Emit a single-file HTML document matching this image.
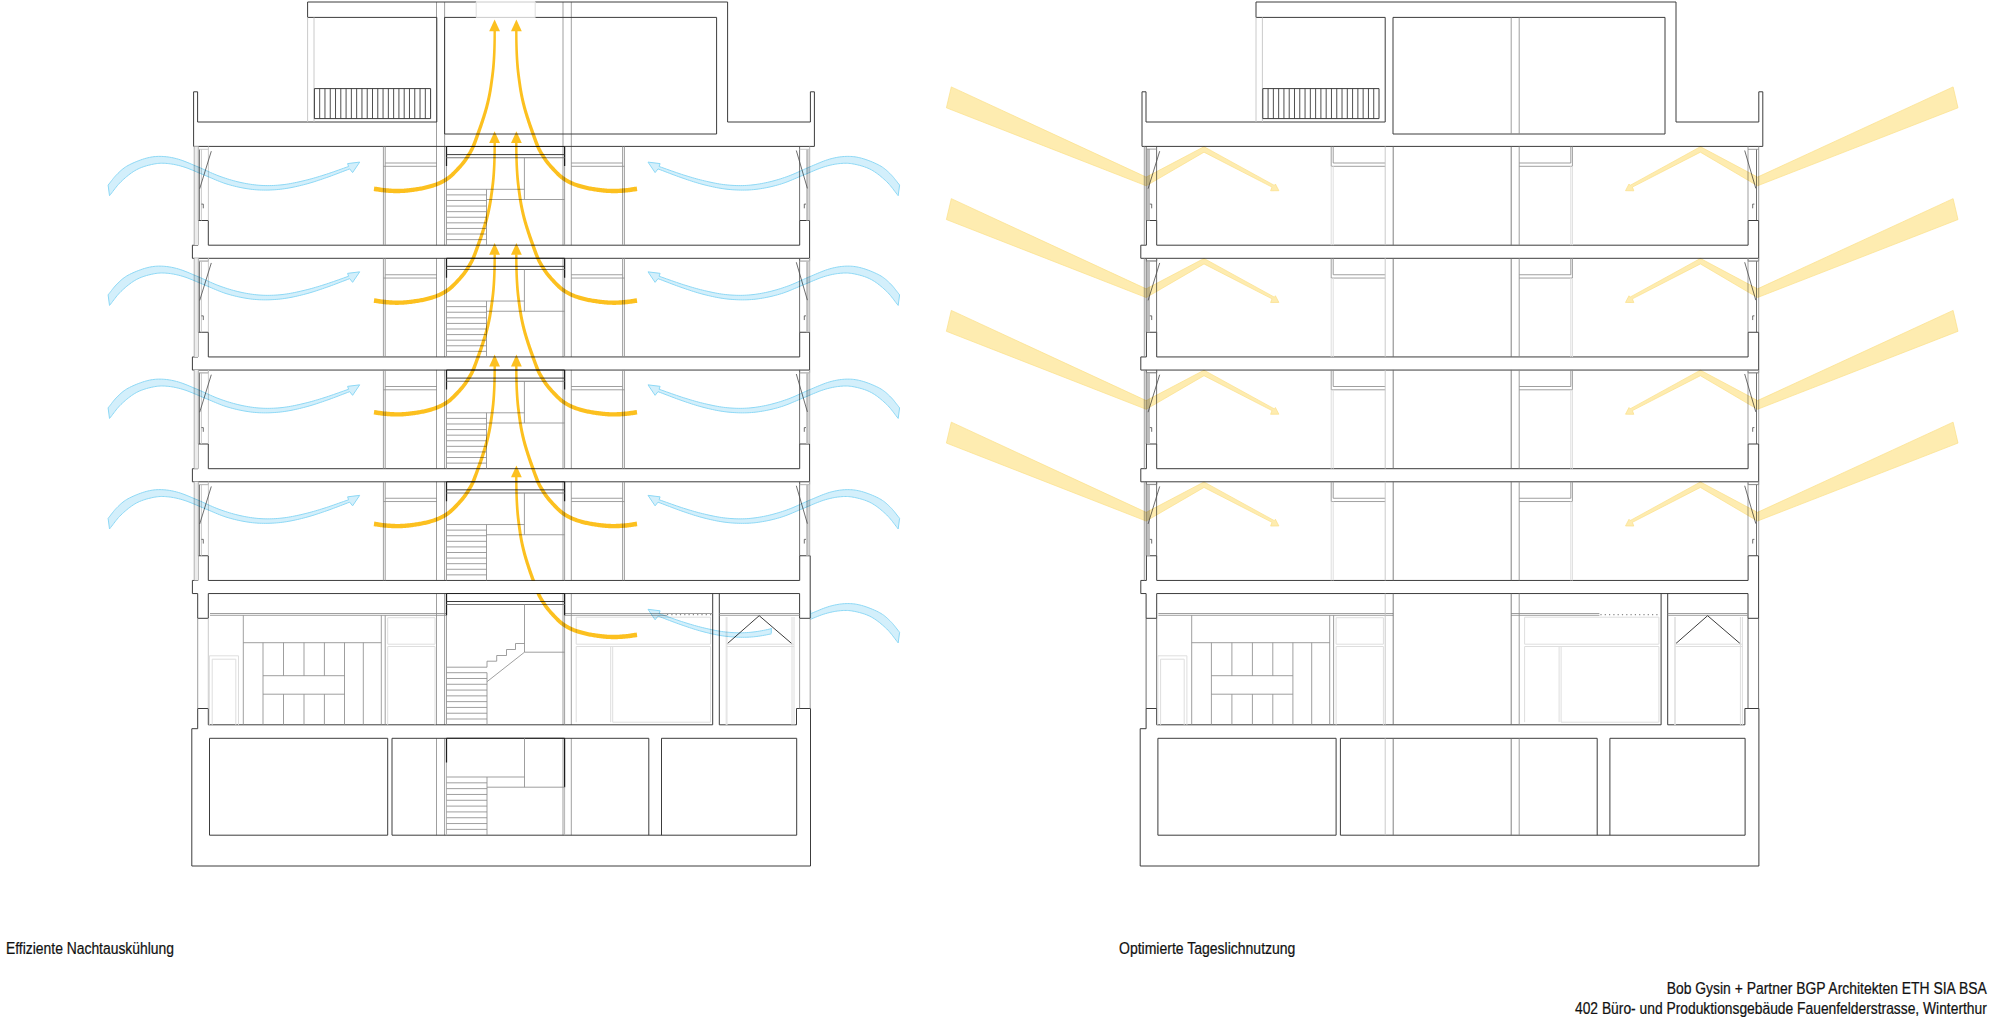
<!DOCTYPE html>
<html lang="de">
<head>
<meta charset="utf-8">
<title>Effiziente Nachtauskühlung / Optimierte Tageslichnutzung</title>
<style>
html,body{margin:0;padding:0;background:#fff;}
body{width:2000px;height:1023px;overflow:hidden;position:relative;font-family:"Liberation Sans",sans-serif;}
svg{position:absolute;left:0;top:0;display:block;}
path{fill:none;stroke-linecap:butt;stroke-linejoin:miter;}
.d{stroke:#3c3c3c;stroke-width:1;}
.d2{stroke:#4a4a4a;stroke-width:.8;}
.k{stroke:#1c1c1c;stroke-width:1.25;}
.kh{stroke:#222;stroke-width:1.05;}
.r{stroke:#3c3c3c;stroke-width:.9;}
.g{stroke:#8e8e8e;stroke-width:.85;}
.g2{stroke:#777;stroke-width:1.1;}
.g3{stroke:#6c6c6c;stroke-width:.85;}
.l{stroke:#c4c4c4;stroke-width:.9;}
.l2{stroke:#ababab;stroke-width:.9;}
.v{stroke:#dedede;stroke-width:1;}
.dot{stroke:#8a8a8a;stroke-width:1.3;stroke-dasharray:1.2 3.1;}
.gf{fill:#ececec;stroke:none;}
.gf2{fill:#bdbdbd;stroke:none;}
.ya{fill:#fcc01f;stroke:none;}
.ba{fill:#d3effb;stroke:#8dd8f5;stroke-width:1;stroke-linejoin:round;}
.bs{stroke:#8dd8f5;stroke-width:1;}
.vw{stroke:#e6e6e6;stroke-width:2;}
.lb{fill:#feecb0;stroke:#fbdf88;stroke-width:.7;stroke-linejoin:round;}
text{font-family:"Liberation Sans",sans-serif;fill:#111;stroke:#111;stroke-width:.22px;}
</style>
</head>
<body>
<svg width="2000" height="1023" viewBox="0 0 2000 1023">
<defs><clipPath id="yclip"><path d="M0 0H2000V580.7H0ZM0 593H2000V1023H0Z"/></clipPath><clipPath id="gclip"><path d="M0 0H771.5V1023H0ZM810.6 0H2000V1023H810.6Z"/></clipPath></defs>
<rect x="0" y="0" width="2000" height="1023" fill="#fff"/>
<g id="bl">
<path class="g" d="M436.5 2L436.5 245.2M436.5 258.15L436.5 356.95M436.5 369.9L436.5 468.7M436.5 481.65L436.5 580.45M436.5 593.5L436.5 724.8M436.5 738.3L436.5 835.2M444.6 2L444.6 245.2M444.6 258.15L444.6 356.95M444.6 369.9L444.6 468.7M444.6 481.65L444.6 580.45M444.6 593.5L444.6 724.8M444.6 738.3L444.6 835.2M563 2L563 245.2M563 258.15L563 356.95M563 369.9L563 468.7M563 481.65L563 580.45M563 593.5L563 724.8M563 738.3L563 835.2M571.3 2L571.3 245.2M571.3 258.15L571.3 356.95M571.3 369.9L571.3 468.7M571.3 481.65L571.3 580.45M571.3 593.5L571.3 724.8M571.3 738.3L571.3 835.2"/>
<path class="d" d="M307.6 17.4L307.6 2L727.6 2L727.6 122L810.4 122L810.4 91.8L814.4 91.8L814.4 146.4L193.6 146.4L193.6 91.8L197.6 91.8L197.6 122L436.8 122L436.8 17.4L307.6 17.4"/>
<path class="d" d="M444.6 17.4L716.6 17.4L716.6 134L444.6 134Z"/>
<rect x="476.2" y="0" width="59" height="19" fill="#fff"/>
<path class="l" d="M476.2 2L535.2 2M476.2 17.4L535.2 17.4"/>
<path class="v" d="M476.2 2L476.2 17.4M535.2 2L535.2 17.4"/>
<path class="l" d="M307.6 17.4L307.6 122M314 17.4L314 122"/>
<path class="d" d="M314.4 88.6L430.6 88.6L430.6 118.6L314.4 118.6Z"/>
<path class="r" d="M319.68 88.6L319.68 118.6M324.96 88.6L324.96 118.6M330.25 88.6L330.25 118.6M335.53 88.6L335.53 118.6M340.81 88.6L340.81 118.6M346.09 88.6L346.09 118.6M351.37 88.6L351.37 118.6M356.65 88.6L356.65 118.6M361.94 88.6L361.94 118.6M367.22 88.6L367.22 118.6M372.5 88.6L372.5 118.6M377.78 88.6L377.78 118.6M383.06 88.6L383.06 118.6M388.35 88.6L388.35 118.6M393.63 88.6L393.63 118.6M398.91 88.6L398.91 118.6M404.19 88.6L404.19 118.6M409.47 88.6L409.47 118.6M414.75 88.6L414.75 118.6M420.04 88.6L420.04 118.6M425.32 88.6L425.32 118.6"/>
<path class="d" d="M208.3 245.2L208.3 220.5L198 220.5L198 245.2L192.4 245.2L192.4 258.3L809.6 258.3L809.6 220.5L799.7 220.5L799.7 245.2L208.3 245.2"/>
<path class="g" d="M198 258.3L198 261.1L208.4 261.1L208.4 258.3"/>
<path class="g" d="M799.7 258.3L799.7 261.1L809.6 261.1L809.6 258.3"/>
<rect class="gf" x="194.2" y="146.4" width="4.2" height="98.8"/>
<path class="l2" d="M194.2 146.4L194.2 245.2M198.3 146.4L198.3 220.5"/>
<path class="d2" d="M199.4 149.3L199.4 220.5"/>
<path class="l" d="M201.4 149.3L201.4 220.5M208.4 146.4L208.4 220.5M198.3 149.3L208.4 149.3"/>
<path class="d2" d="M211.3 151.2L199.7 188.7"/>
<path class="d2" d="M201.4 204.1L203.3 204.1L203.3 208.3"/>
<rect class="gf2" x="806.2" y="149.3" width="2.4" height="71.2"/>
<path class="d2" d="M799.6 146.4L799.6 220.5"/>
<path class="l2" d="M809.7 146.4L809.7 220.5"/>
<path class="l" d="M799.6 149.3L809.7 149.3"/>
<path class="d2" d="M796.3 150.5L807.4 188.4"/>
<path class="d2" d="M804.3 208.3L804.3 204.1L806 204.1"/>
<path class="g" d="M383.4 146.4L383.4 245.2M385.2 146.4L385.2 245.2"/>
<path class="g" d="M385.2 163L437 163M383.4 166.3L437 166.3"/>
<path class="g" d="M622.6 146.4L622.6 245.2M624.4 146.4L624.4 245.2"/>
<path class="g" d="M571.3 163L622.6 163M571.3 166.3L624.4 166.3"/>
<path class="g" d="M446.5 146.4L446.5 245.2M564.6 146.4L564.6 245.2"/>
<path class="kh" d="M446.5 146.4L564.6 146.4"/>
<path class="k" d="M446.5 146.4L446.5 166M564.6 146.4L564.6 166"/>
<path class="d" d="M446.5 154.6L564.6 154.6"/>
<path class="g2" d="M446.5 157.7L564.6 157.7"/>
<path class="g" d="M524.4 157.7L524.4 199.5M446.5 189.3L524.4 189.3M486.5 199.5L564.6 199.5M486.5 189.3L486.5 245.2"/>
<path class="g" d="M446.5 194.89L486.5 194.89M446.5 200.48L486.5 200.48M446.5 206.07L486.5 206.07M446.5 211.66L486.5 211.66M446.5 217.25L486.5 217.25M446.5 222.84L486.5 222.84M446.5 228.43L486.5 228.43M446.5 234.02L486.5 234.02M446.5 239.61L486.5 239.61"/>
<path class="d" d="M208.3 356.95L208.3 332.25L198 332.25L198 356.95L192.4 356.95L192.4 370.05L809.6 370.05L809.6 332.25L799.7 332.25L799.7 356.95L208.3 356.95"/>
<path class="g" d="M198 370.05L198 372.85L208.4 372.85L208.4 370.05"/>
<path class="g" d="M799.7 370.05L799.7 372.85L809.6 372.85L809.6 370.05"/>
<rect class="gf" x="194.2" y="258.15" width="4.2" height="98.8"/>
<path class="l2" d="M194.2 258.15L194.2 356.95M198.3 258.15L198.3 332.25"/>
<path class="d2" d="M199.4 261.05L199.4 332.25"/>
<path class="l" d="M201.4 261.05L201.4 332.25M208.4 258.15L208.4 332.25M198.3 261.05L208.4 261.05"/>
<path class="d2" d="M211.3 262.95L199.7 300.45"/>
<path class="d2" d="M201.4 315.85L203.3 315.85L203.3 320.05"/>
<rect class="gf2" x="806.2" y="261.05" width="2.4" height="71.2"/>
<path class="d2" d="M799.6 258.15L799.6 332.25"/>
<path class="l2" d="M809.7 258.15L809.7 332.25"/>
<path class="l" d="M799.6 261.05L809.7 261.05"/>
<path class="d2" d="M796.3 262.25L807.4 300.15"/>
<path class="d2" d="M804.3 320.05L804.3 315.85L806 315.85"/>
<path class="g" d="M383.4 258.15L383.4 356.95M385.2 258.15L385.2 356.95"/>
<path class="g" d="M385.2 274.75L437 274.75M383.4 278.05L437 278.05"/>
<path class="g" d="M622.6 258.15L622.6 356.95M624.4 258.15L624.4 356.95"/>
<path class="g" d="M571.3 274.75L622.6 274.75M571.3 278.05L624.4 278.05"/>
<path class="g" d="M446.5 258.15L446.5 356.95M564.6 258.15L564.6 356.95"/>
<path class="kh" d="M446.5 258.15L564.6 258.15"/>
<path class="k" d="M446.5 258.15L446.5 277.75M564.6 258.15L564.6 277.75"/>
<path class="d" d="M446.5 266.35L564.6 266.35"/>
<path class="g2" d="M446.5 269.45L564.6 269.45"/>
<path class="g" d="M524.4 269.45L524.4 311.25M446.5 301.05L524.4 301.05M486.5 311.25L564.6 311.25M486.5 301.05L486.5 356.95"/>
<path class="g" d="M446.5 306.64L486.5 306.64M446.5 312.23L486.5 312.23M446.5 317.82L486.5 317.82M446.5 323.41L486.5 323.41M446.5 329L486.5 329M446.5 334.59L486.5 334.59M446.5 340.18L486.5 340.18M446.5 345.77L486.5 345.77M446.5 351.36L486.5 351.36"/>
<path class="d" d="M208.3 468.7L208.3 444L198 444L198 468.7L192.4 468.7L192.4 481.8L809.6 481.8L809.6 444L799.7 444L799.7 468.7L208.3 468.7"/>
<path class="g" d="M198 481.8L198 484.6L208.4 484.6L208.4 481.8"/>
<path class="g" d="M799.7 481.8L799.7 484.6L809.6 484.6L809.6 481.8"/>
<rect class="gf" x="194.2" y="369.9" width="4.2" height="98.8"/>
<path class="l2" d="M194.2 369.9L194.2 468.7M198.3 369.9L198.3 444"/>
<path class="d2" d="M199.4 372.8L199.4 444"/>
<path class="l" d="M201.4 372.8L201.4 444M208.4 369.9L208.4 444M198.3 372.8L208.4 372.8"/>
<path class="d2" d="M211.3 374.7L199.7 412.2"/>
<path class="d2" d="M201.4 427.6L203.3 427.6L203.3 431.8"/>
<rect class="gf2" x="806.2" y="372.8" width="2.4" height="71.2"/>
<path class="d2" d="M799.6 369.9L799.6 444"/>
<path class="l2" d="M809.7 369.9L809.7 444"/>
<path class="l" d="M799.6 372.8L809.7 372.8"/>
<path class="d2" d="M796.3 374L807.4 411.9"/>
<path class="d2" d="M804.3 431.8L804.3 427.6L806 427.6"/>
<path class="g" d="M383.4 369.9L383.4 468.7M385.2 369.9L385.2 468.7"/>
<path class="g" d="M385.2 386.5L437 386.5M383.4 389.8L437 389.8"/>
<path class="g" d="M622.6 369.9L622.6 468.7M624.4 369.9L624.4 468.7"/>
<path class="g" d="M571.3 386.5L622.6 386.5M571.3 389.8L624.4 389.8"/>
<path class="g" d="M446.5 369.9L446.5 468.7M564.6 369.9L564.6 468.7"/>
<path class="kh" d="M446.5 369.9L564.6 369.9"/>
<path class="k" d="M446.5 369.9L446.5 389.5M564.6 369.9L564.6 389.5"/>
<path class="d" d="M446.5 378.1L564.6 378.1"/>
<path class="g2" d="M446.5 381.2L564.6 381.2"/>
<path class="g" d="M524.4 381.2L524.4 423M446.5 412.8L524.4 412.8M486.5 423L564.6 423M486.5 412.8L486.5 468.7"/>
<path class="g" d="M446.5 418.39L486.5 418.39M446.5 423.98L486.5 423.98M446.5 429.57L486.5 429.57M446.5 435.16L486.5 435.16M446.5 440.75L486.5 440.75M446.5 446.34L486.5 446.34M446.5 451.93L486.5 451.93M446.5 457.52L486.5 457.52M446.5 463.11L486.5 463.11"/>
<path class="d" d="M208.3 580.45L208.3 555.75L198 555.75L198 580.45L192.4 580.45L192.4 593.55L197.7 593.55L197.7 618.3L208.3 618.3L208.3 593.55L799.6 593.55L799.6 618.3L810.2 618.3L810.2 555.75L799.7 555.75L799.7 580.45L208.3 580.45"/>
<rect class="gf" x="194.2" y="481.65" width="4.2" height="98.8"/>
<path class="l2" d="M194.2 481.65L194.2 580.45M198.3 481.65L198.3 555.75"/>
<path class="d2" d="M199.4 484.55L199.4 555.75"/>
<path class="l" d="M201.4 484.55L201.4 555.75M208.4 481.65L208.4 555.75M198.3 484.55L208.4 484.55"/>
<path class="d2" d="M211.3 486.45L199.7 523.95"/>
<path class="d2" d="M201.4 539.35L203.3 539.35L203.3 543.55"/>
<rect class="gf2" x="806.2" y="484.55" width="2.4" height="71.2"/>
<path class="d2" d="M799.6 481.65L799.6 555.75"/>
<path class="l2" d="M809.7 481.65L809.7 555.75"/>
<path class="l" d="M799.6 484.55L809.7 484.55"/>
<path class="d2" d="M796.3 485.75L807.4 523.65"/>
<path class="d2" d="M804.3 543.55L804.3 539.35L806 539.35"/>
<path class="g" d="M383.4 481.65L383.4 580.45M385.2 481.65L385.2 580.45"/>
<path class="g" d="M385.2 498.25L437 498.25M383.4 501.55L437 501.55"/>
<path class="g" d="M622.6 481.65L622.6 580.45M624.4 481.65L624.4 580.45"/>
<path class="g" d="M571.3 498.25L622.6 498.25M571.3 501.55L624.4 501.55"/>
<path class="g" d="M446.5 481.65L446.5 580.45M564.6 481.65L564.6 580.45"/>
<path class="kh" d="M446.5 481.65L564.6 481.65"/>
<path class="k" d="M446.5 481.65L446.5 501.25M564.6 481.65L564.6 501.25"/>
<path class="d" d="M446.5 489.85L564.6 489.85"/>
<path class="g2" d="M446.5 492.95L564.6 492.95"/>
<path class="g" d="M524.4 492.95L524.4 534.75M446.5 524.55L524.4 524.55M486.5 534.75L564.6 534.75M486.5 524.55L486.5 580.45"/>
<path class="g" d="M446.5 530.14L486.5 530.14M446.5 535.73L486.5 535.73M446.5 541.32L486.5 541.32M446.5 546.91L486.5 546.91M446.5 552.5L486.5 552.5M446.5 558.09L486.5 558.09M446.5 563.68L486.5 563.68M446.5 569.27L486.5 569.27M446.5 574.86L486.5 574.86"/>
<path class="d" d="M208.3 724.8L208.3 708.5L197.7 708.5L197.7 728.7L191.8 728.7L191.8 866L810.5 866L810.5 708.5L796.5 708.5L796.5 724.8L719.3 724.8L719.3 593.5"/>
<path class="d" d="M712.7 593.5L712.7 724.8L208.3 724.8"/>
<path class="g" d="M197.7 618.3L197.7 708.5"/>
<path class="l" d="M208.3 618.3L208.3 708.5"/>
<path class="g" d="M799.6 618.3L799.6 708.5M810.2 618.3L810.2 708.5"/>
<path class="g" d="M210 613.5L446.2 613.5M210 615.3L446.2 615.3"/>
<path class="g" d="M564.6 613.5L712.7 613.5M564.6 615.3L667 615.3"/>
<path class="dot" d="M667 614.6L712 614.6"/>
<path class="g" d="M719.3 613.5L799.6 613.5M719.3 615.3L799.6 615.3"/>
<path class="v" d="M209.4 724.8L209.4 655.8L238.5 655.8L238.5 724.8M212.2 724.8L212.2 659.2L235.8 659.2L235.8 724.8"/>
<path class="g" d="M243.3 615.3L243.3 724.8M243.3 642.7L381.3 642.7M263 642.7L263 724.8M344.5 642.7L344.5 724.8M363.3 642.7L363.3 724.8M263 675.7L344.5 675.7M263 694.2L344.5 694.2"/>
<path class="g" d="M283.5 642.7L283.5 675.7M283.5 694.2L283.5 724.8M304 642.7L304 675.7M304 694.2L304 724.8M324.4 642.7L324.4 675.7M324.4 694.2L324.4 724.8"/>
<path class="g" d="M381.3 615.3L381.3 724.8M385.2 615.3L385.2 724.8"/>
<path class="v" d="M387.7 617.7L435 617.7L435 644.2L387.7 644.2L387.7 617.7M387.7 724.8L387.7 646.5L435 646.5L435 724.8"/>
<path class="g" d="M446.5 593.5L446.5 724.8M564.6 593.5L564.6 724.8"/>
<path class="kh" d="M446.5 593.5L564.6 593.5"/>
<path class="k" d="M446.5 593.5L446.5 615.3M564.6 593.5L564.6 615.3"/>
<path class="d" d="M446.5 601.5L564.6 601.5"/>
<path class="g2" d="M446.5 604.5L564.6 604.5"/>
<path class="g" d="M524.5 604.5L524.5 652.2L564.6 652.2M524.5 643.5L515.5 643.5L515.5 649.5L506.5 649.5L506.5 655.5L496.7 655.5L496.7 661.2L487 661.2L487 667.2L446.5 667.2M524.5 652.2L487 681.7M487 672.7L487 724.8"/>
<path class="g" d="M446.5 672.7L487 672.7M446.5 678.49L487 678.49M446.5 684.28L487 684.28M446.5 690.07L487 690.07M446.5 695.86L487 695.86M446.5 701.64L487 701.64M446.5 707.43L487 707.43M446.5 713.22L487 713.22M446.5 719.01L487 719.01"/>
<path class="v" d="M576.2 617.2L710.5 617.2L710.5 644.2L576.2 644.2L576.2 617.2M576.2 722.2L576.2 646.5L710.5 646.5L710.5 722.2L612.7 722.2L612.7 646.5M610.7 646.5L610.7 722.2"/>
<path class="d" d="M727.2 643.8L759.2 615.7L792 643.8"/>
<path class="vw" d="M726.6 617L726.6 724.8"/>
<path class="v" d="M792 617L792 724.8M794 617L794 724.8M726.5 644.2L794 644.2M726.5 646.5L794 646.5"/>
<path class="d" d="M209.5 738.3L387.7 738.3L387.7 835.2L209.5 835.2Z"/>
<path class="d" d="M392 835.2L392 738.3L648.8 738.3L648.8 835.2"/>
<path class="d" d="M661.5 835.2L661.5 738.3L796.7 738.3L796.7 835.2L392 835.2"/>
<path class="l2" d="M446.5 738.3L446.5 835.2M564.6 787.2L564.6 835.2"/>
<path class="kh" d="M446.5 738.3L564.6 738.3"/>
<path class="k" d="M446.5 738.3L446.5 762.5M564.6 738.3L564.6 787.2"/>
<path class="g" d="M524.5 738.3L524.5 787.2M487 787.2L564.6 787.2M446.5 777L524.5 777M487 777L487 835.2"/>
<path class="g" d="M446.5 782.82L487 782.82M446.5 788.64L487 788.64M446.5 794.46L487 794.46M446.5 800.28L487 800.28M446.5 806.1L487 806.1M446.5 811.92L487 811.92M446.5 817.74L487 817.74M446.5 823.56L487 823.56M446.5 829.38L487 829.38"/>
</g>
<g id="br">
<path class="d" d="M1256 17.4L1256 2L1676 2L1676 122L1758.8 122L1758.8 91.8L1762.8 91.8L1762.8 146.4L1142 146.4L1142 91.8L1146 91.8L1146 122L1385.2 122L1385.2 17.4L1256 17.4"/>
<path class="d" d="M1393 17.4L1665 17.4L1665 134L1393 134Z"/>
<path class="l" d="M1256 17.4L1256 122M1262.4 17.4L1262.4 122"/>
<path class="d" d="M1262.8 88.6L1379 88.6L1379 118.6L1262.8 118.6Z"/>
<path class="r" d="M1268.08 88.6L1268.08 118.6M1273.36 88.6L1273.36 118.6M1278.65 88.6L1278.65 118.6M1283.93 88.6L1283.93 118.6M1289.21 88.6L1289.21 118.6M1294.49 88.6L1294.49 118.6M1299.77 88.6L1299.77 118.6M1305.05 88.6L1305.05 118.6M1310.34 88.6L1310.34 118.6M1315.62 88.6L1315.62 118.6M1320.9 88.6L1320.9 118.6M1326.18 88.6L1326.18 118.6M1331.46 88.6L1331.46 118.6M1336.75 88.6L1336.75 118.6M1342.03 88.6L1342.03 118.6M1347.31 88.6L1347.31 118.6M1352.59 88.6L1352.59 118.6M1357.87 88.6L1357.87 118.6M1363.15 88.6L1363.15 118.6M1368.44 88.6L1368.44 118.6M1373.72 88.6L1373.72 118.6"/>
<path class="g" d="M1511.2 17.4L1511.2 134M1519.2 17.4L1519.2 134"/>
<path class="d" d="M1156.7 245.2L1156.7 220.5L1146.4 220.5L1146.4 245.2L1140.8 245.2L1140.8 258.3L1758.7 258.3L1758.7 220.5L1748.1 220.5L1748.1 245.2L1156.7 245.2"/>
<path class="g" d="M1146.4 258.3L1146.4 261.1L1156.8 261.1L1156.8 258.3"/>
<path class="g" d="M1748.1 258.3L1748.1 261.1L1758.7 261.1L1758.7 258.3"/>
<rect class="gf2" x="1147" y="149.1" width="3" height="71.4"/>
<path class="g" d="M1144.3 146.4L1144.3 245.2"/>
<path class="d2" d="M1146.2 146.4L1146.2 220.5"/>
<path class="d2" d="M1156.6 146.4L1156.6 220.5"/>
<path class="g" d="M1146.2 149.1L1156.6 149.1"/>
<path class="d2" d="M1159.7 151.2L1148.1 188.7"/>
<path class="d2" d="M1149.8 204.1L1151.7 204.1L1151.7 208.3"/>
<path class="g" d="M1748 146.4L1748 220.5"/>
<path class="d2" d="M1756.5 149.3L1756.5 220.5"/>
<path class="g" d="M1758.7 146.4L1758.7 220.5"/>
<path class="g" d="M1748 149.3L1758.7 149.3"/>
<path class="d2" d="M1744.7 150.5L1755.8 188.4"/>
<path class="d2" d="M1752.7 208.3L1752.7 204.1L1754.4 204.1"/>
<path class="g" d="M1331.2 146.4L1331.2 166.3M1333.2 146.4L1333.2 163L1385.2 163M1331.2 166.3L1385.2 166.3"/>
<path class="v" d="M1331.2 166.3L1331.2 245.2M1333.2 166.3L1333.2 245.2"/>
<path class="l" d="M1385.2 146.4L1385.2 245.2"/>
<path class="g3" d="M1393.2 146.4L1393.2 245.2"/>
<path class="g3" d="M1511.2 146.4L1511.2 245.2"/>
<path class="g" d="M1519.2 146.4L1519.2 245.2"/>
<path class="g" d="M1572.4 146.4L1572.4 166.3M1570.8 146.4L1570.8 163L1519.2 163M1519.2 166.3L1572.4 166.3"/>
<path class="v" d="M1572.4 166.3L1572.4 245.2M1570.8 166.3L1570.8 245.2"/>
<path class="d" d="M1156.7 356.95L1156.7 332.25L1146.4 332.25L1146.4 356.95L1140.8 356.95L1140.8 370.05L1758.7 370.05L1758.7 332.25L1748.1 332.25L1748.1 356.95L1156.7 356.95"/>
<path class="g" d="M1146.4 370.05L1146.4 372.85L1156.8 372.85L1156.8 370.05"/>
<path class="g" d="M1748.1 370.05L1748.1 372.85L1758.7 372.85L1758.7 370.05"/>
<rect class="gf2" x="1147" y="260.85" width="3" height="71.4"/>
<path class="g" d="M1144.3 258.15L1144.3 356.95"/>
<path class="d2" d="M1146.2 258.15L1146.2 332.25"/>
<path class="d2" d="M1156.6 258.15L1156.6 332.25"/>
<path class="g" d="M1146.2 260.85L1156.6 260.85"/>
<path class="d2" d="M1159.7 262.95L1148.1 300.45"/>
<path class="d2" d="M1149.8 315.85L1151.7 315.85L1151.7 320.05"/>
<path class="g" d="M1748 258.15L1748 332.25"/>
<path class="d2" d="M1756.5 261.05L1756.5 332.25"/>
<path class="g" d="M1758.7 258.15L1758.7 332.25"/>
<path class="g" d="M1748 261.05L1758.7 261.05"/>
<path class="d2" d="M1744.7 262.25L1755.8 300.15"/>
<path class="d2" d="M1752.7 320.05L1752.7 315.85L1754.4 315.85"/>
<path class="g" d="M1331.2 258.15L1331.2 278.05M1333.2 258.15L1333.2 274.75L1385.2 274.75M1331.2 278.05L1385.2 278.05"/>
<path class="v" d="M1331.2 278.05L1331.2 356.95M1333.2 278.05L1333.2 356.95"/>
<path class="l" d="M1385.2 258.15L1385.2 356.95"/>
<path class="g3" d="M1393.2 258.15L1393.2 356.95"/>
<path class="g3" d="M1511.2 258.15L1511.2 356.95"/>
<path class="g" d="M1519.2 258.15L1519.2 356.95"/>
<path class="g" d="M1572.4 258.15L1572.4 278.05M1570.8 258.15L1570.8 274.75L1519.2 274.75M1519.2 278.05L1572.4 278.05"/>
<path class="v" d="M1572.4 278.05L1572.4 356.95M1570.8 278.05L1570.8 356.95"/>
<path class="d" d="M1156.7 468.7L1156.7 444L1146.4 444L1146.4 468.7L1140.8 468.7L1140.8 481.8L1758.7 481.8L1758.7 444L1748.1 444L1748.1 468.7L1156.7 468.7"/>
<path class="g" d="M1146.4 481.8L1146.4 484.6L1156.8 484.6L1156.8 481.8"/>
<path class="g" d="M1748.1 481.8L1748.1 484.6L1758.7 484.6L1758.7 481.8"/>
<rect class="gf2" x="1147" y="372.6" width="3" height="71.4"/>
<path class="g" d="M1144.3 369.9L1144.3 468.7"/>
<path class="d2" d="M1146.2 369.9L1146.2 444"/>
<path class="d2" d="M1156.6 369.9L1156.6 444"/>
<path class="g" d="M1146.2 372.6L1156.6 372.6"/>
<path class="d2" d="M1159.7 374.7L1148.1 412.2"/>
<path class="d2" d="M1149.8 427.6L1151.7 427.6L1151.7 431.8"/>
<path class="g" d="M1748 369.9L1748 444"/>
<path class="d2" d="M1756.5 372.8L1756.5 444"/>
<path class="g" d="M1758.7 369.9L1758.7 444"/>
<path class="g" d="M1748 372.8L1758.7 372.8"/>
<path class="d2" d="M1744.7 374L1755.8 411.9"/>
<path class="d2" d="M1752.7 431.8L1752.7 427.6L1754.4 427.6"/>
<path class="g" d="M1331.2 369.9L1331.2 389.8M1333.2 369.9L1333.2 386.5L1385.2 386.5M1331.2 389.8L1385.2 389.8"/>
<path class="v" d="M1331.2 389.8L1331.2 468.7M1333.2 389.8L1333.2 468.7"/>
<path class="l" d="M1385.2 369.9L1385.2 468.7"/>
<path class="g3" d="M1393.2 369.9L1393.2 468.7"/>
<path class="g3" d="M1511.2 369.9L1511.2 468.7"/>
<path class="g" d="M1519.2 369.9L1519.2 468.7"/>
<path class="g" d="M1572.4 369.9L1572.4 389.8M1570.8 369.9L1570.8 386.5L1519.2 386.5M1519.2 389.8L1572.4 389.8"/>
<path class="v" d="M1572.4 389.8L1572.4 468.7M1570.8 389.8L1570.8 468.7"/>
<path class="d" d="M1156.7 580.45L1156.7 555.75L1146.4 555.75L1146.4 580.45L1140.8 580.45L1140.8 593.55L1146.1 593.55L1146.1 618.3L1156.7 618.3L1156.7 593.55L1748 593.55L1748 618.3L1758.6 618.3L1758.6 555.75L1748.1 555.75L1748.1 580.45L1156.7 580.45"/>
<rect class="gf2" x="1147" y="484.35" width="3" height="71.4"/>
<path class="g" d="M1144.3 481.65L1144.3 580.45"/>
<path class="d2" d="M1146.2 481.65L1146.2 555.75"/>
<path class="d2" d="M1156.6 481.65L1156.6 555.75"/>
<path class="g" d="M1146.2 484.35L1156.6 484.35"/>
<path class="d2" d="M1159.7 486.45L1148.1 523.95"/>
<path class="d2" d="M1149.8 539.35L1151.7 539.35L1151.7 543.55"/>
<path class="g" d="M1748 481.65L1748 555.75"/>
<path class="d2" d="M1756.5 484.55L1756.5 555.75"/>
<path class="g" d="M1758.7 481.65L1758.7 555.75"/>
<path class="g" d="M1748 484.55L1758.7 484.55"/>
<path class="d2" d="M1744.7 485.75L1755.8 523.65"/>
<path class="d2" d="M1752.7 543.55L1752.7 539.35L1754.4 539.35"/>
<path class="g" d="M1331.2 481.65L1331.2 501.55M1333.2 481.65L1333.2 498.25L1385.2 498.25M1331.2 501.55L1385.2 501.55"/>
<path class="v" d="M1331.2 501.55L1331.2 580.45M1333.2 501.55L1333.2 580.45"/>
<path class="l" d="M1385.2 481.65L1385.2 580.45"/>
<path class="g3" d="M1393.2 481.65L1393.2 580.45"/>
<path class="g3" d="M1511.2 481.65L1511.2 580.45"/>
<path class="g" d="M1519.2 481.65L1519.2 580.45"/>
<path class="g" d="M1572.4 481.65L1572.4 501.55M1570.8 481.65L1570.8 498.25L1519.2 498.25M1519.2 501.55L1572.4 501.55"/>
<path class="v" d="M1572.4 501.55L1572.4 580.45M1570.8 501.55L1570.8 580.45"/>
<path class="d" d="M1156.7 724.8L1156.7 708.5L1146.1 708.5L1146.1 728.7L1140.2 728.7L1140.2 866L1758.9 866L1758.9 708.5L1744.9 708.5L1744.9 724.8L1667.7 724.8L1667.7 593.5"/>
<path class="d" d="M1661.1 593.5L1661.1 724.8L1156.7 724.8"/>
<path class="d2" d="M1146.1 618.3L1146.1 708.5"/>
<path class="d2" d="M1156.7 618.3L1156.7 708.5"/>
<path class="d2" d="M1748 618.3L1748 708.5M1758.6 618.3L1758.6 708.5"/>
<path class="g" d="M1158.4 613.5L1393.2 613.5M1158.4 615.3L1393.2 615.3"/>
<path class="g" d="M1511.4 613.5L1599.4 613.5M1511.4 615.3L1599.4 615.3"/>
<path class="dot" d="M1600.4 614.6L1660.4 614.6"/>
<path class="g" d="M1667.7 613.5L1748 613.5M1667.7 615.3L1748 615.3"/>
<path class="v" d="M1157.8 724.8L1157.8 655.8L1186.9 655.8L1186.9 724.8M1160.6 724.8L1160.6 659.2L1184.2 659.2L1184.2 724.8"/>
<path class="g" d="M1191.7 615.3L1191.7 724.8M1191.7 642.7L1329.7 642.7M1211.4 642.7L1211.4 724.8M1292.9 642.7L1292.9 724.8M1311.7 642.7L1311.7 724.8M1211.4 675.7L1292.9 675.7M1211.4 694.2L1292.9 694.2"/>
<path class="g" d="M1231.9 642.7L1231.9 675.7M1231.9 694.2L1231.9 724.8M1252.4 642.7L1252.4 675.7M1252.4 694.2L1252.4 724.8M1272.8 642.7L1272.8 675.7M1272.8 694.2L1272.8 724.8"/>
<path class="g" d="M1329.7 615.3L1329.7 724.8M1333.6 615.3L1333.6 724.8"/>
<path class="v" d="M1336.1 617.7L1383.4 617.7L1383.4 644.2L1336.1 644.2L1336.1 617.7M1336.1 724.8L1336.1 646.5L1383.4 646.5L1383.4 724.8"/>
<path class="l" d="M1385.2 593.5L1385.2 724.8"/>
<path class="g3" d="M1393.2 593.5L1393.2 724.8"/>
<path class="g3" d="M1511.2 593.5L1511.2 724.8"/>
<path class="g" d="M1519.2 593.5L1519.2 724.8"/>
<path class="v" d="M1524.6 617.2L1658.9 617.2L1658.9 644.2L1524.6 644.2L1524.6 617.2M1524.6 722.2L1524.6 646.5L1658.9 646.5L1658.9 722.2L1561.1 722.2L1561.1 646.5M1559.1 646.5L1559.1 722.2"/>
<path class="d" d="M1675.6 643.8L1707.6 615.7L1740.4 643.8"/>
<path class="vw" d="M1675 617L1675 724.8"/>
<path class="v" d="M1740.4 617L1740.4 724.8M1742.4 617L1742.4 724.8M1674.9 644.2L1742.4 644.2M1674.9 646.5L1742.4 646.5"/>
<path class="d" d="M1157.9 738.3L1336.1 738.3L1336.1 835.2L1157.9 835.2Z"/>
<path class="d" d="M1340.4 835.2L1340.4 738.3L1597.2 738.3L1597.2 835.2"/>
<path class="d" d="M1609.9 835.2L1609.9 738.3L1745.1 738.3L1745.1 835.2L1340.4 835.2"/>
<path class="l" d="M1385.2 738.3L1385.2 835.2"/>
<path class="g3" d="M1393.2 738.3L1393.2 835.2"/>
<path class="g3" d="M1511.2 738.3L1511.2 835.2"/>
<path class="g" d="M1519.2 738.3L1519.2 835.2"/>
</g>
<g id="arrows" style="mix-blend-mode:multiply">
<path class="ya" d="M373.67 191.08L374.42 191.18L375.15 191.29L375.88 191.4L376.61 191.51L377.34 191.62L378.08 191.74L378.82 191.85L379.57 191.96L380.34 192.07L381.11 192.17L381.9 192.27L382.71 192.37L383.54 192.46L384.38 192.54L385.24 192.62L386.12 192.69L387.02 192.76L387.94 192.83L388.86 192.89L389.8 192.95L390.75 193L391.7 193.05L392.65 193.1L393.6 193.13L394.54 193.16L395.47 193.18L396.39 193.19L397.3 193.19L398.18 193.18L399.03 193.17L399.87 193.15L400.7 193.12L401.52 193.09L402.34 193.05L403.16 193L403.98 192.94L404.81 192.88L405.65 192.8L406.51 192.72L407.4 192.63L408.3 192.53L409.24 192.42L410.21 192.3L411.22 192.18L412.26 192.04L413.32 191.9L414.39 191.75L415.49 191.58L416.59 191.42L417.7 191.24L418.8 191.05L419.9 190.86L420.99 190.66L422.06 190.45L423.11 190.24L424.14 190.02L425.14 189.79L426.14 189.56L427.13 189.31L428.12 189.06L429.1 188.8L430.07 188.54L431.03 188.26L431.98 187.98L432.91 187.7L433.83 187.4L434.73 187.1L435.61 186.8L436.47 186.49L437.31 186.17L438.13 185.85L438.93 185.52L439.71 185.18L440.47 184.84L441.21 184.49L441.93 184.13L442.63 183.77L443.32 183.41L443.99 183.04L444.65 182.66L445.29 182.29L445.92 181.91L446.53 181.53L447.14 181.16L447.72 180.78L448.27 180.42L448.79 180.07L449.3 179.72L449.79 179.36L450.26 179L450.74 178.63L451.21 178.24L451.69 177.83L452.17 177.4L452.67 176.95L453.19 176.46L453.74 175.94L454.33 175.38L454.96 174.75L455.63 174.08L456.34 173.35L457.07 172.59L457.82 171.8L458.58 170.99L459.35 170.16L460.11 169.32L460.86 168.48L461.6 167.66L462.31 166.84L462.99 166.05L463.63 165.29L464.23 164.57L464.78 163.88L465.3 163.21L465.8 162.55L466.27 161.91L466.72 161.28L467.14 160.66L467.55 160.06L467.94 159.46L468.32 158.87L468.69 158.28L469.05 157.7L469.41 157.12L469.77 156.53L470.13 155.95L470.48 155.37L470.82 154.81L471.15 154.27L471.47 153.73L471.79 153.2L472.1 152.66L472.4 152.12L472.71 151.56L473.01 150.98L473.32 150.38L473.63 149.74L473.95 149.07L474.27 148.36L474.61 147.61L474.95 146.8L475.3 145.94L475.66 145.05L476.02 144.13L476.38 143.18L476.74 142.21L477.1 141.22L477.47 140.22L477.83 139.21L478.19 138.2L478.55 137.2L478.9 136.21L479.25 135.23L479.59 134.28L479.93 133.33L480.26 132.38L480.6 131.44L480.93 130.49L481.27 129.54L481.6 128.6L481.93 127.65L482.25 126.7L482.58 125.75L482.9 124.8L483.21 123.85L483.53 122.9L483.84 121.95L484.14 121L484.45 120.06L484.75 119.11L485.05 118.16L485.35 117.21L485.64 116.26L485.93 115.31L486.22 114.36L486.51 113.41L486.79 112.46L487.06 111.51L487.33 110.55L487.6 109.6L487.86 108.65L488.11 107.7L488.35 106.75L488.59 105.81L488.83 104.86L489.05 103.92L489.28 102.98L489.5 102.03L489.71 101.09L489.92 100.15L490.12 99.21L490.32 98.26L490.51 97.32L490.7 96.38L490.89 95.43L491.07 94.48L491.25 93.53L491.42 92.58L491.58 91.63L491.74 90.68L491.89 89.73L492.04 88.78L492.19 87.83L492.33 86.88L492.46 85.93L492.6 84.98L492.73 84.04L492.86 83.09L492.99 82.14L493.12 81.2L493.25 80.25L493.37 79.31L493.5 78.36L493.62 77.41L493.74 76.47L493.85 75.52L493.97 74.57L494.08 73.62L494.19 72.68L494.29 71.73L494.39 70.78L494.49 69.83L494.58 68.88L494.67 67.93L494.75 66.98L494.83 66.02L494.9 65.07L494.97 64.11L495.04 63.16L495.1 62.2L495.16 61.25L495.22 60.3L495.27 59.35L495.33 58.4L495.37 57.46L495.42 56.52L495.47 55.59L495.51 54.67L495.55 53.74L495.59 52.81L495.62 51.89L495.65 50.96L495.68 50.04L495.71 49.13L495.73 48.21L495.75 47.31L495.77 46.41L495.79 45.51L495.81 44.63L495.82 43.75L495.84 42.88L495.85 42.03L495.86 41.18L495.87 40.35L495.88 39.52L495.89 38.71L495.89 37.91L495.89 37.11L495.89 36.32L495.89 35.53L495.89 34.75L495.89 33.96L495.9 33.18L495.9 32.4L495.9 31.61L495.9 30.81L493.5 30.79L493.49 31.59L493.48 32.38L493.47 33.17L493.47 33.95L493.46 34.74L493.45 35.52L493.44 36.31L493.43 37.09L493.42 37.89L493.41 38.69L493.4 39.49L493.39 40.31L493.37 41.13L493.35 41.97L493.33 42.83L493.3 43.69L493.28 44.57L493.25 45.45L493.23 46.34L493.2 47.24L493.17 48.14L493.14 49.04L493.1 49.95L493.07 50.87L493.03 51.78L492.98 52.7L492.94 53.62L492.89 54.53L492.84 55.46L492.79 56.38L492.73 57.32L492.67 58.25L492.61 59.19L492.55 60.13L492.49 61.07L492.42 62.02L492.35 62.96L492.27 63.91L492.19 64.85L492.11 65.79L492.02 66.73L491.93 67.67L491.84 68.61L491.74 69.54L491.63 70.48L491.53 71.42L491.42 72.35L491.3 73.29L491.18 74.23L491.06 75.17L490.94 76.1L490.81 77.04L490.68 77.98L490.55 78.92L490.41 79.86L490.28 80.8L490.14 81.74L490 82.68L489.87 83.62L489.73 84.56L489.58 85.5L489.44 86.44L489.29 87.38L489.14 88.32L488.98 89.25L488.82 90.19L488.66 91.12L488.49 92.06L488.31 92.99L488.13 93.92L487.94 94.85L487.75 95.78L487.56 96.7L487.36 97.63L487.15 98.56L486.94 99.48L486.73 100.41L486.51 101.34L486.29 102.26L486.06 103.19L485.83 104.11L485.59 105.04L485.34 105.97L485.09 106.9L484.84 107.83L484.58 108.76L484.31 109.69L484.03 110.62L483.75 111.56L483.47 112.49L483.18 113.43L482.88 114.36L482.59 115.3L482.29 116.24L481.98 117.18L481.67 118.12L481.37 119.06L481.06 120L480.74 120.93L480.43 121.87L480.11 122.8L479.79 123.74L479.46 124.68L479.13 125.61L478.8 126.55L478.46 127.49L478.13 128.43L477.79 129.37L477.45 130.3L477.1 131.24L476.76 132.18L476.41 133.12L476.06 134.08L475.7 135.05L475.34 136.04L474.98 137.04L474.61 138.04L474.24 139.03L473.87 140.02L473.5 140.99L473.14 141.94L472.78 142.87L472.42 143.76L472.07 144.62L471.73 145.43L471.39 146.19L471.07 146.91L470.76 147.57L470.46 148.19L470.16 148.78L469.87 149.34L469.58 149.87L469.3 150.38L469.01 150.89L468.71 151.39L468.41 151.89L468.1 152.41L467.77 152.93L467.43 153.48L467.07 154.05L466.71 154.64L466.35 155.21L465.99 155.78L465.63 156.35L465.27 156.91L464.9 157.47L464.53 158.03L464.14 158.6L463.73 159.17L463.31 159.75L462.87 160.35L462.4 160.96L461.9 161.58L461.37 162.23L460.8 162.91L460.18 163.63L459.51 164.39L458.81 165.18L458.09 165.98L457.34 166.79L456.59 167.6L455.83 168.41L455.08 169.2L454.34 169.96L453.62 170.7L452.93 171.39L452.28 172.04L451.67 172.62L451.1 173.16L450.58 173.66L450.08 174.11L449.61 174.52L449.17 174.91L448.74 175.26L448.33 175.6L447.91 175.92L447.49 176.23L447.06 176.54L446.6 176.85L446.12 177.17L445.61 177.5L445.06 177.84L444.48 178.2L443.9 178.55L443.31 178.9L442.7 179.24L442.09 179.59L441.46 179.92L440.82 180.25L440.16 180.58L439.49 180.9L438.81 181.22L438.11 181.53L437.39 181.84L436.65 182.14L435.89 182.43L435.1 182.71L434.29 183L433.45 183.28L432.6 183.55L431.72 183.82L430.83 184.09L429.92 184.35L428.99 184.6L428.06 184.85L427.11 185.09L426.16 185.33L425.2 185.55L424.23 185.77L423.26 185.98L422.28 186.18L421.27 186.38L420.24 186.57L419.19 186.75L418.12 186.93L417.04 187.1L415.96 187.26L414.88 187.41L413.81 187.56L412.75 187.7L411.71 187.83L410.7 187.96L409.71 188.07L408.76 188.18L407.84 188.27L406.96 188.36L406.11 188.44L405.28 188.51L404.47 188.58L403.68 188.63L402.89 188.68L402.12 188.72L401.34 188.75L400.56 188.77L399.77 188.79L398.96 188.8L398.14 188.81L397.3 188.81L396.44 188.8L395.57 188.78L394.67 188.75L393.77 188.72L392.85 188.68L391.93 188.63L391.01 188.57L390.09 188.51L389.18 188.44L388.27 188.37L387.38 188.3L386.5 188.22L385.65 188.14L384.82 188.06L384.02 187.98L383.24 187.89L382.47 187.79L381.72 187.69L380.98 187.58L380.25 187.47L379.52 187.35L378.79 187.23L378.06 187.11L377.33 186.99L376.59 186.87L375.84 186.75L375.09 186.64L374.33 186.52Z"/>
<path class="ya" d="M494.6 19.5L489.2 31.3L500 31.3Z"/>
<path class="ya" d="M637.33 191.08L636.58 191.18L635.85 191.29L635.12 191.4L634.39 191.51L633.66 191.62L632.92 191.74L632.18 191.85L631.43 191.96L630.66 192.07L629.89 192.17L629.1 192.27L628.29 192.37L627.46 192.46L626.62 192.54L625.76 192.62L624.88 192.69L623.98 192.76L623.06 192.83L622.14 192.89L621.2 192.95L620.25 193L619.3 193.05L618.35 193.1L617.4 193.13L616.46 193.16L615.53 193.18L614.61 193.19L613.7 193.19L612.82 193.18L611.97 193.17L611.13 193.15L610.3 193.12L609.48 193.09L608.66 193.05L607.84 193L607.02 192.94L606.19 192.88L605.35 192.8L604.49 192.72L603.6 192.63L602.7 192.53L601.76 192.42L600.79 192.3L599.78 192.18L598.74 192.04L597.68 191.9L596.61 191.75L595.51 191.58L594.41 191.42L593.3 191.24L592.2 191.05L591.1 190.86L590.01 190.66L588.94 190.45L587.89 190.24L586.86 190.02L585.86 189.79L584.86 189.56L583.87 189.31L582.88 189.06L581.9 188.8L580.93 188.54L579.97 188.26L579.02 187.98L578.09 187.7L577.17 187.4L576.27 187.1L575.39 186.8L574.53 186.49L573.69 186.17L572.87 185.85L572.07 185.52L571.29 185.18L570.53 184.84L569.79 184.49L569.07 184.13L568.37 183.77L567.68 183.41L567.01 183.04L566.35 182.66L565.71 182.29L565.08 181.91L564.47 181.53L563.86 181.16L563.28 180.78L562.73 180.42L562.21 180.07L561.7 179.72L561.21 179.36L560.74 179L560.26 178.63L559.79 178.24L559.31 177.83L558.83 177.4L558.33 176.95L557.81 176.46L557.26 175.94L556.67 175.38L556.04 174.75L555.37 174.08L554.66 173.35L553.93 172.59L553.18 171.8L552.42 170.99L551.65 170.16L550.89 169.32L550.14 168.48L549.4 167.66L548.69 166.84L548.01 166.05L547.37 165.29L546.77 164.57L546.22 163.88L545.7 163.21L545.2 162.55L544.73 161.91L544.28 161.28L543.86 160.66L543.45 160.06L543.06 159.46L542.68 158.87L542.31 158.28L541.95 157.7L541.59 157.12L541.23 156.53L540.87 155.95L540.52 155.37L540.18 154.81L539.85 154.27L539.53 153.73L539.21 153.2L538.9 152.66L538.6 152.12L538.29 151.56L537.99 150.98L537.68 150.38L537.37 149.74L537.05 149.07L536.73 148.36L536.39 147.61L536.05 146.8L535.7 145.94L535.34 145.05L534.98 144.13L534.62 143.18L534.26 142.21L533.9 141.22L533.53 140.22L533.17 139.21L532.81 138.2L532.45 137.2L532.1 136.21L531.75 135.23L531.41 134.28L531.07 133.33L530.74 132.38L530.4 131.44L530.07 130.49L529.73 129.54L529.4 128.6L529.07 127.65L528.75 126.7L528.42 125.75L528.1 124.8L527.79 123.85L527.47 122.9L527.16 121.95L526.86 121L526.55 120.06L526.25 119.11L525.95 118.16L525.65 117.21L525.36 116.26L525.07 115.31L524.78 114.36L524.49 113.41L524.21 112.46L523.94 111.51L523.67 110.55L523.4 109.6L523.14 108.65L522.89 107.7L522.65 106.75L522.41 105.81L522.17 104.86L521.95 103.92L521.72 102.98L521.5 102.03L521.29 101.09L521.08 100.15L520.88 99.21L520.68 98.26L520.49 97.32L520.3 96.38L520.11 95.43L519.93 94.48L519.75 93.53L519.58 92.58L519.42 91.63L519.26 90.68L519.11 89.73L518.96 88.78L518.81 87.83L518.67 86.88L518.54 85.93L518.4 84.98L518.27 84.04L518.14 83.09L518.01 82.14L517.88 81.2L517.75 80.25L517.63 79.31L517.5 78.36L517.38 77.41L517.26 76.47L517.15 75.52L517.03 74.57L516.92 73.62L516.81 72.68L516.71 71.73L516.61 70.78L516.51 69.83L516.42 68.88L516.33 67.93L516.25 66.98L516.17 66.02L516.1 65.07L516.03 64.11L515.96 63.16L515.9 62.2L515.84 61.25L515.78 60.3L515.73 59.35L515.67 58.4L515.63 57.46L515.58 56.52L515.53 55.59L515.49 54.67L515.45 53.74L515.41 52.81L515.38 51.89L515.35 50.96L515.32 50.04L515.29 49.13L515.27 48.21L515.25 47.31L515.23 46.41L515.21 45.51L515.19 44.63L515.18 43.75L515.16 42.88L515.15 42.03L515.14 41.18L515.13 40.35L515.12 39.52L515.11 38.71L515.11 37.91L515.11 37.11L515.11 36.32L515.11 35.53L515.11 34.75L515.11 33.96L515.1 33.18L515.1 32.4L515.1 31.61L515.1 30.81L517.5 30.79L517.51 31.59L517.52 32.38L517.53 33.17L517.53 33.95L517.54 34.74L517.55 35.52L517.56 36.31L517.57 37.09L517.58 37.89L517.59 38.69L517.6 39.49L517.61 40.31L517.63 41.13L517.65 41.97L517.67 42.83L517.7 43.69L517.72 44.57L517.75 45.45L517.77 46.34L517.8 47.24L517.83 48.14L517.86 49.04L517.9 49.95L517.93 50.87L517.97 51.78L518.02 52.7L518.06 53.62L518.11 54.53L518.16 55.46L518.21 56.38L518.27 57.32L518.33 58.25L518.39 59.19L518.45 60.13L518.51 61.07L518.58 62.02L518.65 62.96L518.73 63.91L518.81 64.85L518.89 65.79L518.98 66.73L519.07 67.67L519.16 68.61L519.26 69.54L519.37 70.48L519.47 71.42L519.58 72.35L519.7 73.29L519.82 74.23L519.94 75.17L520.06 76.1L520.19 77.04L520.32 77.98L520.45 78.92L520.59 79.86L520.72 80.8L520.86 81.74L521 82.68L521.13 83.62L521.27 84.56L521.42 85.5L521.56 86.44L521.71 87.38L521.86 88.32L522.02 89.25L522.18 90.19L522.34 91.12L522.51 92.06L522.69 92.99L522.87 93.92L523.06 94.85L523.25 95.78L523.44 96.7L523.64 97.63L523.85 98.56L524.06 99.48L524.27 100.41L524.49 101.34L524.71 102.26L524.94 103.19L525.17 104.11L525.41 105.04L525.66 105.97L525.91 106.9L526.16 107.83L526.42 108.76L526.69 109.69L526.97 110.62L527.25 111.56L527.53 112.49L527.82 113.43L528.12 114.36L528.41 115.3L528.71 116.24L529.02 117.18L529.33 118.12L529.63 119.06L529.94 120L530.26 120.93L530.57 121.87L530.89 122.8L531.21 123.74L531.54 124.68L531.87 125.61L532.2 126.55L532.54 127.49L532.87 128.43L533.21 129.37L533.55 130.3L533.9 131.24L534.24 132.18L534.59 133.12L534.94 134.08L535.3 135.05L535.66 136.04L536.02 137.04L536.39 138.04L536.76 139.03L537.13 140.02L537.5 140.99L537.86 141.94L538.22 142.87L538.58 143.76L538.93 144.62L539.27 145.43L539.61 146.19L539.93 146.91L540.24 147.57L540.54 148.19L540.84 148.78L541.13 149.34L541.42 149.87L541.7 150.38L541.99 150.89L542.29 151.39L542.59 151.89L542.9 152.41L543.23 152.93L543.57 153.48L543.93 154.05L544.29 154.64L544.65 155.21L545.01 155.78L545.37 156.35L545.73 156.91L546.1 157.47L546.47 158.03L546.86 158.6L547.27 159.17L547.69 159.75L548.13 160.35L548.6 160.96L549.1 161.58L549.63 162.23L550.2 162.91L550.82 163.63L551.49 164.39L552.19 165.18L552.91 165.98L553.66 166.79L554.41 167.6L555.17 168.41L555.92 169.2L556.66 169.96L557.38 170.7L558.07 171.39L558.72 172.04L559.33 172.62L559.9 173.16L560.42 173.66L560.92 174.11L561.39 174.52L561.83 174.91L562.26 175.26L562.67 175.6L563.09 175.92L563.51 176.23L563.94 176.54L564.4 176.85L564.88 177.17L565.39 177.5L565.94 177.84L566.52 178.2L567.1 178.55L567.69 178.9L568.3 179.24L568.91 179.59L569.54 179.92L570.18 180.25L570.84 180.58L571.51 180.9L572.19 181.22L572.89 181.53L573.61 181.84L574.35 182.14L575.11 182.43L575.9 182.71L576.71 183L577.55 183.28L578.4 183.55L579.28 183.82L580.17 184.09L581.08 184.35L582.01 184.6L582.94 184.85L583.89 185.09L584.84 185.33L585.8 185.55L586.77 185.77L587.74 185.98L588.72 186.18L589.73 186.38L590.76 186.57L591.81 186.75L592.88 186.93L593.96 187.1L595.04 187.26L596.12 187.41L597.19 187.56L598.25 187.7L599.29 187.83L600.3 187.96L601.29 188.07L602.24 188.18L603.16 188.27L604.04 188.36L604.89 188.44L605.72 188.51L606.53 188.58L607.32 188.63L608.11 188.68L608.88 188.72L609.66 188.75L610.44 188.77L611.23 188.79L612.04 188.8L612.86 188.81L613.7 188.81L614.56 188.8L615.43 188.78L616.33 188.75L617.23 188.72L618.15 188.68L619.07 188.63L619.99 188.57L620.91 188.51L621.82 188.44L622.73 188.37L623.62 188.3L624.5 188.22L625.35 188.14L626.18 188.06L626.98 187.98L627.76 187.89L628.53 187.79L629.28 187.69L630.02 187.58L630.75 187.47L631.48 187.35L632.21 187.23L632.94 187.11L633.67 186.99L634.41 186.87L635.16 186.75L635.91 186.64L636.67 186.52Z"/>
<path class="ya" d="M516.4 19.5L521.8 31.3L511 31.3Z"/>
<path class="ya" d="M373.67 302.78L374.42 302.88L375.15 302.99L375.88 303.1L376.61 303.21L377.34 303.32L378.08 303.44L378.82 303.55L379.57 303.66L380.34 303.77L381.11 303.87L381.9 303.97L382.71 304.07L383.54 304.16L384.38 304.24L385.24 304.32L386.12 304.39L387.02 304.46L387.94 304.53L388.86 304.59L389.8 304.65L390.75 304.7L391.7 304.75L392.65 304.8L393.6 304.83L394.54 304.86L395.47 304.88L396.39 304.89L397.3 304.89L398.18 304.88L399.03 304.87L399.87 304.85L400.7 304.82L401.52 304.79L402.34 304.75L403.16 304.7L403.98 304.64L404.81 304.58L405.65 304.5L406.51 304.42L407.4 304.33L408.3 304.23L409.24 304.12L410.21 304L411.22 303.88L412.26 303.74L413.32 303.6L414.39 303.45L415.49 303.28L416.59 303.12L417.7 302.94L418.8 302.75L419.9 302.56L420.99 302.36L422.06 302.15L423.11 301.94L424.14 301.72L425.14 301.49L426.14 301.26L427.13 301.01L428.12 300.76L429.1 300.5L430.07 300.24L431.03 299.96L431.98 299.68L432.91 299.4L433.83 299.1L434.73 298.8L435.61 298.5L436.47 298.19L437.31 297.87L438.13 297.55L438.93 297.22L439.71 296.88L440.47 296.54L441.21 296.19L441.93 295.83L442.63 295.47L443.32 295.11L443.99 294.74L444.65 294.36L445.29 293.99L445.92 293.61L446.53 293.23L447.14 292.86L447.72 292.48L448.27 292.12L448.79 291.77L449.3 291.42L449.79 291.06L450.26 290.7L450.74 290.33L451.21 289.94L451.69 289.53L452.17 289.1L452.67 288.65L453.19 288.16L453.74 287.64L454.33 287.08L454.96 286.45L455.63 285.78L456.34 285.05L457.07 284.29L457.82 283.5L458.58 282.69L459.35 281.86L460.11 281.02L460.86 280.18L461.6 279.36L462.31 278.54L462.99 277.75L463.63 276.99L464.23 276.27L464.78 275.58L465.3 274.91L465.8 274.25L466.27 273.61L466.72 272.98L467.14 272.36L467.55 271.76L467.94 271.16L468.32 270.57L468.69 269.98L469.05 269.4L469.41 268.82L469.77 268.23L470.13 267.65L470.48 267.07L470.82 266.51L471.15 265.97L471.47 265.43L471.79 264.9L472.1 264.36L472.4 263.82L472.71 263.26L473.01 262.68L473.32 262.08L473.63 261.44L473.95 260.77L474.27 260.06L474.61 259.31L474.95 258.5L475.3 257.64L475.66 256.75L476.02 255.83L476.38 254.88L476.74 253.91L477.1 252.92L477.47 251.92L477.83 250.91L478.19 249.9L478.55 248.9L478.9 247.91L479.25 246.93L479.59 245.98L479.93 245.03L480.26 244.08L480.6 243.14L480.93 242.19L481.27 241.24L481.6 240.3L481.93 239.35L482.25 238.4L482.58 237.45L482.9 236.5L483.21 235.55L483.53 234.6L483.84 233.65L484.14 232.7L484.45 231.76L484.75 230.81L485.05 229.86L485.35 228.91L485.64 227.96L485.93 227.01L486.22 226.06L486.51 225.11L486.79 224.16L487.06 223.21L487.33 222.25L487.6 221.3L487.86 220.35L488.11 219.4L488.35 218.45L488.59 217.51L488.83 216.56L489.05 215.62L489.28 214.68L489.5 213.73L489.71 212.79L489.92 211.85L490.12 210.91L490.32 209.96L490.51 209.02L490.7 208.08L490.89 207.13L491.07 206.18L491.25 205.23L491.42 204.28L491.58 203.33L491.74 202.38L491.89 201.43L492.04 200.48L492.19 199.53L492.33 198.58L492.46 197.63L492.6 196.68L492.73 195.74L492.86 194.79L492.99 193.84L493.12 192.9L493.25 191.95L493.37 191.01L493.5 190.06L493.62 189.11L493.74 188.17L493.85 187.22L493.97 186.27L494.08 185.32L494.19 184.38L494.29 183.43L494.39 182.48L494.49 181.53L494.58 180.58L494.67 179.63L494.75 178.68L494.83 177.72L494.9 176.77L494.97 175.81L495.04 174.86L495.1 173.9L495.16 172.95L495.22 172L495.27 171.05L495.33 170.1L495.37 169.16L495.42 168.22L495.47 167.29L495.51 166.37L495.55 165.44L495.59 164.51L495.62 163.59L495.65 162.66L495.68 161.74L495.71 160.83L495.73 159.91L495.75 159.01L495.77 158.11L495.79 157.21L495.81 156.33L495.82 155.45L495.84 154.58L495.85 153.73L495.86 152.88L495.87 152.05L495.88 151.22L495.89 150.41L495.89 149.61L495.89 148.81L495.89 148.02L495.89 147.23L495.89 146.45L495.89 145.66L495.9 144.88L495.9 144.1L495.9 143.31L495.9 142.51L493.5 142.49L493.49 143.29L493.48 144.08L493.47 144.87L493.47 145.65L493.46 146.44L493.45 147.22L493.44 148.01L493.43 148.79L493.42 149.59L493.41 150.39L493.4 151.19L493.39 152.01L493.37 152.83L493.35 153.67L493.33 154.53L493.3 155.39L493.28 156.27L493.25 157.15L493.23 158.04L493.2 158.94L493.17 159.84L493.14 160.74L493.1 161.65L493.07 162.57L493.03 163.48L492.98 164.4L492.94 165.32L492.89 166.23L492.84 167.16L492.79 168.08L492.73 169.02L492.67 169.95L492.61 170.89L492.55 171.83L492.49 172.77L492.42 173.72L492.35 174.66L492.27 175.61L492.19 176.55L492.11 177.49L492.02 178.43L491.93 179.37L491.84 180.31L491.74 181.24L491.63 182.18L491.53 183.12L491.42 184.05L491.3 184.99L491.18 185.93L491.06 186.87L490.94 187.8L490.81 188.74L490.68 189.68L490.55 190.62L490.41 191.56L490.28 192.5L490.14 193.44L490 194.38L489.87 195.32L489.73 196.26L489.58 197.2L489.44 198.14L489.29 199.08L489.14 200.02L488.98 200.95L488.82 201.89L488.66 202.82L488.49 203.76L488.31 204.69L488.13 205.62L487.94 206.55L487.75 207.48L487.56 208.4L487.36 209.33L487.15 210.26L486.94 211.18L486.73 212.11L486.51 213.04L486.29 213.96L486.06 214.89L485.83 215.81L485.59 216.74L485.34 217.67L485.09 218.6L484.84 219.53L484.58 220.46L484.31 221.39L484.03 222.32L483.75 223.26L483.47 224.19L483.18 225.13L482.88 226.06L482.59 227L482.29 227.94L481.98 228.88L481.67 229.82L481.37 230.76L481.06 231.7L480.74 232.63L480.43 233.57L480.11 234.5L479.79 235.44L479.46 236.38L479.13 237.31L478.8 238.25L478.46 239.19L478.13 240.13L477.79 241.07L477.45 242L477.1 242.94L476.76 243.88L476.41 244.82L476.06 245.78L475.7 246.75L475.34 247.74L474.98 248.74L474.61 249.74L474.24 250.73L473.87 251.72L473.5 252.69L473.14 253.64L472.78 254.57L472.42 255.46L472.07 256.32L471.73 257.13L471.39 257.89L471.07 258.61L470.76 259.27L470.46 259.89L470.16 260.48L469.87 261.04L469.58 261.57L469.3 262.08L469.01 262.59L468.71 263.09L468.41 263.59L468.1 264.11L467.77 264.63L467.43 265.18L467.07 265.75L466.71 266.34L466.35 266.91L465.99 267.48L465.63 268.05L465.27 268.61L464.9 269.17L464.53 269.73L464.14 270.3L463.73 270.87L463.31 271.45L462.87 272.05L462.4 272.66L461.9 273.28L461.37 273.93L460.8 274.61L460.18 275.33L459.51 276.09L458.81 276.88L458.09 277.68L457.34 278.49L456.59 279.3L455.83 280.11L455.08 280.9L454.34 281.66L453.62 282.4L452.93 283.09L452.28 283.74L451.67 284.32L451.1 284.86L450.58 285.36L450.08 285.81L449.61 286.22L449.17 286.61L448.74 286.96L448.33 287.3L447.91 287.62L447.49 287.93L447.06 288.24L446.6 288.55L446.12 288.87L445.61 289.2L445.06 289.54L444.48 289.9L443.9 290.25L443.31 290.6L442.7 290.94L442.09 291.29L441.46 291.62L440.82 291.95L440.16 292.28L439.49 292.6L438.81 292.92L438.11 293.23L437.39 293.54L436.65 293.84L435.89 294.13L435.1 294.41L434.29 294.7L433.45 294.98L432.6 295.25L431.72 295.52L430.83 295.79L429.92 296.05L428.99 296.3L428.06 296.55L427.11 296.79L426.16 297.03L425.2 297.25L424.23 297.47L423.26 297.68L422.28 297.88L421.27 298.08L420.24 298.27L419.19 298.45L418.12 298.63L417.04 298.8L415.96 298.96L414.88 299.11L413.81 299.26L412.75 299.4L411.71 299.53L410.7 299.66L409.71 299.77L408.76 299.88L407.84 299.97L406.96 300.06L406.11 300.14L405.28 300.21L404.47 300.28L403.68 300.33L402.89 300.38L402.12 300.42L401.34 300.45L400.56 300.47L399.77 300.49L398.96 300.5L398.14 300.51L397.3 300.51L396.44 300.5L395.57 300.48L394.67 300.45L393.77 300.42L392.85 300.38L391.93 300.33L391.01 300.27L390.09 300.21L389.18 300.14L388.27 300.07L387.38 300L386.5 299.92L385.65 299.84L384.82 299.76L384.02 299.68L383.24 299.59L382.47 299.49L381.72 299.39L380.98 299.28L380.25 299.17L379.52 299.05L378.79 298.93L378.06 298.81L377.33 298.69L376.59 298.57L375.84 298.45L375.09 298.34L374.33 298.22Z"/>
<path class="ya" d="M494.6 131.2L489.2 143L500 143Z"/>
<path class="ya" d="M637.33 302.78L636.58 302.88L635.85 302.99L635.12 303.1L634.39 303.21L633.66 303.32L632.92 303.44L632.18 303.55L631.43 303.66L630.66 303.77L629.89 303.87L629.1 303.97L628.29 304.07L627.46 304.16L626.62 304.24L625.76 304.32L624.88 304.39L623.98 304.46L623.06 304.53L622.14 304.59L621.2 304.65L620.25 304.7L619.3 304.75L618.35 304.8L617.4 304.83L616.46 304.86L615.53 304.88L614.61 304.89L613.7 304.89L612.82 304.88L611.97 304.87L611.13 304.85L610.3 304.82L609.48 304.79L608.66 304.75L607.84 304.7L607.02 304.64L606.19 304.58L605.35 304.5L604.49 304.42L603.6 304.33L602.7 304.23L601.76 304.12L600.79 304L599.78 303.88L598.74 303.74L597.68 303.6L596.61 303.45L595.51 303.28L594.41 303.12L593.3 302.94L592.2 302.75L591.1 302.56L590.01 302.36L588.94 302.15L587.89 301.94L586.86 301.72L585.86 301.49L584.86 301.26L583.87 301.01L582.88 300.76L581.9 300.5L580.93 300.24L579.97 299.96L579.02 299.68L578.09 299.4L577.17 299.1L576.27 298.8L575.39 298.5L574.53 298.19L573.69 297.87L572.87 297.55L572.07 297.22L571.29 296.88L570.53 296.54L569.79 296.19L569.07 295.83L568.37 295.47L567.68 295.11L567.01 294.74L566.35 294.36L565.71 293.99L565.08 293.61L564.47 293.23L563.86 292.86L563.28 292.48L562.73 292.12L562.21 291.77L561.7 291.42L561.21 291.06L560.74 290.7L560.26 290.33L559.79 289.94L559.31 289.53L558.83 289.1L558.33 288.65L557.81 288.16L557.26 287.64L556.67 287.08L556.04 286.45L555.37 285.78L554.66 285.05L553.93 284.29L553.18 283.5L552.42 282.69L551.65 281.86L550.89 281.02L550.14 280.18L549.4 279.36L548.69 278.54L548.01 277.75L547.37 276.99L546.77 276.27L546.22 275.58L545.7 274.91L545.2 274.25L544.73 273.61L544.28 272.98L543.86 272.36L543.45 271.76L543.06 271.16L542.68 270.57L542.31 269.98L541.95 269.4L541.59 268.82L541.23 268.23L540.87 267.65L540.52 267.07L540.18 266.51L539.85 265.97L539.53 265.43L539.21 264.9L538.9 264.36L538.6 263.82L538.29 263.26L537.99 262.68L537.68 262.08L537.37 261.44L537.05 260.77L536.73 260.06L536.39 259.31L536.05 258.5L535.7 257.64L535.34 256.75L534.98 255.83L534.62 254.88L534.26 253.91L533.9 252.92L533.53 251.92L533.17 250.91L532.81 249.9L532.45 248.9L532.1 247.91L531.75 246.93L531.41 245.98L531.07 245.03L530.74 244.08L530.4 243.14L530.07 242.19L529.73 241.24L529.4 240.3L529.07 239.35L528.75 238.4L528.42 237.45L528.1 236.5L527.79 235.55L527.47 234.6L527.16 233.65L526.86 232.7L526.55 231.76L526.25 230.81L525.95 229.86L525.65 228.91L525.36 227.96L525.07 227.01L524.78 226.06L524.49 225.11L524.21 224.16L523.94 223.21L523.67 222.25L523.4 221.3L523.14 220.35L522.89 219.4L522.65 218.45L522.41 217.51L522.17 216.56L521.95 215.62L521.72 214.68L521.5 213.73L521.29 212.79L521.08 211.85L520.88 210.91L520.68 209.96L520.49 209.02L520.3 208.08L520.11 207.13L519.93 206.18L519.75 205.23L519.58 204.28L519.42 203.33L519.26 202.38L519.11 201.43L518.96 200.48L518.81 199.53L518.67 198.58L518.54 197.63L518.4 196.68L518.27 195.74L518.14 194.79L518.01 193.84L517.88 192.9L517.75 191.95L517.63 191.01L517.5 190.06L517.38 189.11L517.26 188.17L517.15 187.22L517.03 186.27L516.92 185.32L516.81 184.38L516.71 183.43L516.61 182.48L516.51 181.53L516.42 180.58L516.33 179.63L516.25 178.68L516.17 177.72L516.1 176.77L516.03 175.81L515.96 174.86L515.9 173.9L515.84 172.95L515.78 172L515.73 171.05L515.67 170.1L515.63 169.16L515.58 168.22L515.53 167.29L515.49 166.37L515.45 165.44L515.41 164.51L515.38 163.59L515.35 162.66L515.32 161.74L515.29 160.83L515.27 159.91L515.25 159.01L515.23 158.11L515.21 157.21L515.19 156.33L515.18 155.45L515.16 154.58L515.15 153.73L515.14 152.88L515.13 152.05L515.12 151.22L515.11 150.41L515.11 149.61L515.11 148.81L515.11 148.02L515.11 147.23L515.11 146.45L515.11 145.66L515.1 144.88L515.1 144.1L515.1 143.31L515.1 142.51L517.5 142.49L517.51 143.29L517.52 144.08L517.53 144.87L517.53 145.65L517.54 146.44L517.55 147.22L517.56 148.01L517.57 148.79L517.58 149.59L517.59 150.39L517.6 151.19L517.61 152.01L517.63 152.83L517.65 153.67L517.67 154.53L517.7 155.39L517.72 156.27L517.75 157.15L517.77 158.04L517.8 158.94L517.83 159.84L517.86 160.74L517.9 161.65L517.93 162.57L517.97 163.48L518.02 164.4L518.06 165.32L518.11 166.23L518.16 167.16L518.21 168.08L518.27 169.02L518.33 169.95L518.39 170.89L518.45 171.83L518.51 172.77L518.58 173.72L518.65 174.66L518.73 175.61L518.81 176.55L518.89 177.49L518.98 178.43L519.07 179.37L519.16 180.31L519.26 181.24L519.37 182.18L519.47 183.12L519.58 184.05L519.7 184.99L519.82 185.93L519.94 186.87L520.06 187.8L520.19 188.74L520.32 189.68L520.45 190.62L520.59 191.56L520.72 192.5L520.86 193.44L521 194.38L521.13 195.32L521.27 196.26L521.42 197.2L521.56 198.14L521.71 199.08L521.86 200.02L522.02 200.95L522.18 201.89L522.34 202.82L522.51 203.76L522.69 204.69L522.87 205.62L523.06 206.55L523.25 207.48L523.44 208.4L523.64 209.33L523.85 210.26L524.06 211.18L524.27 212.11L524.49 213.04L524.71 213.96L524.94 214.89L525.17 215.81L525.41 216.74L525.66 217.67L525.91 218.6L526.16 219.53L526.42 220.46L526.69 221.39L526.97 222.32L527.25 223.26L527.53 224.19L527.82 225.13L528.12 226.06L528.41 227L528.71 227.94L529.02 228.88L529.33 229.82L529.63 230.76L529.94 231.7L530.26 232.63L530.57 233.57L530.89 234.5L531.21 235.44L531.54 236.38L531.87 237.31L532.2 238.25L532.54 239.19L532.87 240.13L533.21 241.07L533.55 242L533.9 242.94L534.24 243.88L534.59 244.82L534.94 245.78L535.3 246.75L535.66 247.74L536.02 248.74L536.39 249.74L536.76 250.73L537.13 251.72L537.5 252.69L537.86 253.64L538.22 254.57L538.58 255.46L538.93 256.32L539.27 257.13L539.61 257.89L539.93 258.61L540.24 259.27L540.54 259.89L540.84 260.48L541.13 261.04L541.42 261.57L541.7 262.08L541.99 262.59L542.29 263.09L542.59 263.59L542.9 264.11L543.23 264.63L543.57 265.18L543.93 265.75L544.29 266.34L544.65 266.91L545.01 267.48L545.37 268.05L545.73 268.61L546.1 269.17L546.47 269.73L546.86 270.3L547.27 270.87L547.69 271.45L548.13 272.05L548.6 272.66L549.1 273.28L549.63 273.93L550.2 274.61L550.82 275.33L551.49 276.09L552.19 276.88L552.91 277.68L553.66 278.49L554.41 279.3L555.17 280.11L555.92 280.9L556.66 281.66L557.38 282.4L558.07 283.09L558.72 283.74L559.33 284.32L559.9 284.86L560.42 285.36L560.92 285.81L561.39 286.22L561.83 286.61L562.26 286.96L562.67 287.3L563.09 287.62L563.51 287.93L563.94 288.24L564.4 288.55L564.88 288.87L565.39 289.2L565.94 289.54L566.52 289.9L567.1 290.25L567.69 290.6L568.3 290.94L568.91 291.29L569.54 291.62L570.18 291.95L570.84 292.28L571.51 292.6L572.19 292.92L572.89 293.23L573.61 293.54L574.35 293.84L575.11 294.13L575.9 294.41L576.71 294.7L577.55 294.98L578.4 295.25L579.28 295.52L580.17 295.79L581.08 296.05L582.01 296.3L582.94 296.55L583.89 296.79L584.84 297.03L585.8 297.25L586.77 297.47L587.74 297.68L588.72 297.88L589.73 298.08L590.76 298.27L591.81 298.45L592.88 298.63L593.96 298.8L595.04 298.96L596.12 299.11L597.19 299.26L598.25 299.4L599.29 299.53L600.3 299.66L601.29 299.77L602.24 299.88L603.16 299.97L604.04 300.06L604.89 300.14L605.72 300.21L606.53 300.28L607.32 300.33L608.11 300.38L608.88 300.42L609.66 300.45L610.44 300.47L611.23 300.49L612.04 300.5L612.86 300.51L613.7 300.51L614.56 300.5L615.43 300.48L616.33 300.45L617.23 300.42L618.15 300.38L619.07 300.33L619.99 300.27L620.91 300.21L621.82 300.14L622.73 300.07L623.62 300L624.5 299.92L625.35 299.84L626.18 299.76L626.98 299.68L627.76 299.59L628.53 299.49L629.28 299.39L630.02 299.28L630.75 299.17L631.48 299.05L632.21 298.93L632.94 298.81L633.67 298.69L634.41 298.57L635.16 298.45L635.91 298.34L636.67 298.22Z"/>
<path class="ya" d="M516.4 131.2L521.8 143L511 143Z"/>
<path class="ya" d="M373.67 414.48L374.42 414.58L375.15 414.69L375.88 414.8L376.61 414.91L377.34 415.02L378.08 415.14L378.82 415.25L379.57 415.36L380.34 415.47L381.11 415.57L381.9 415.67L382.71 415.77L383.54 415.86L384.38 415.94L385.24 416.02L386.12 416.09L387.02 416.16L387.94 416.23L388.86 416.29L389.8 416.35L390.75 416.4L391.7 416.45L392.65 416.5L393.6 416.53L394.54 416.56L395.47 416.58L396.39 416.59L397.3 416.59L398.18 416.58L399.03 416.57L399.87 416.55L400.7 416.52L401.52 416.49L402.34 416.45L403.16 416.4L403.98 416.34L404.81 416.28L405.65 416.2L406.51 416.12L407.4 416.03L408.3 415.93L409.24 415.82L410.21 415.7L411.22 415.58L412.26 415.44L413.32 415.3L414.39 415.15L415.49 414.98L416.59 414.82L417.7 414.64L418.8 414.45L419.9 414.26L420.99 414.06L422.06 413.85L423.11 413.64L424.14 413.42L425.14 413.19L426.14 412.96L427.13 412.71L428.12 412.46L429.1 412.2L430.07 411.94L431.03 411.66L431.98 411.38L432.91 411.1L433.83 410.8L434.73 410.5L435.61 410.2L436.47 409.89L437.31 409.57L438.13 409.25L438.93 408.92L439.71 408.58L440.47 408.24L441.21 407.89L441.93 407.53L442.63 407.17L443.32 406.81L443.99 406.44L444.65 406.06L445.29 405.69L445.92 405.31L446.53 404.93L447.14 404.56L447.72 404.18L448.27 403.82L448.79 403.47L449.3 403.12L449.79 402.76L450.26 402.4L450.74 402.03L451.21 401.64L451.69 401.23L452.17 400.8L452.67 400.35L453.19 399.86L453.74 399.34L454.33 398.78L454.96 398.15L455.63 397.48L456.34 396.75L457.07 395.99L457.82 395.2L458.58 394.39L459.35 393.56L460.11 392.72L460.86 391.88L461.6 391.06L462.31 390.24L462.99 389.45L463.63 388.69L464.23 387.97L464.78 387.28L465.3 386.61L465.8 385.95L466.27 385.31L466.72 384.68L467.14 384.06L467.55 383.46L467.94 382.86L468.32 382.27L468.69 381.68L469.05 381.1L469.41 380.52L469.77 379.93L470.13 379.35L470.48 378.77L470.82 378.21L471.15 377.67L471.47 377.13L471.79 376.6L472.1 376.06L472.4 375.52L472.71 374.96L473.01 374.38L473.32 373.78L473.63 373.14L473.95 372.47L474.27 371.76L474.61 371.01L474.95 370.2L475.3 369.34L475.66 368.45L476.02 367.53L476.38 366.58L476.74 365.61L477.1 364.62L477.47 363.62L477.83 362.61L478.19 361.6L478.55 360.6L478.9 359.61L479.25 358.63L479.59 357.68L479.93 356.73L480.26 355.78L480.6 354.84L480.93 353.89L481.27 352.94L481.6 352L481.93 351.05L482.25 350.1L482.58 349.15L482.9 348.2L483.21 347.25L483.53 346.3L483.84 345.35L484.14 344.4L484.45 343.46L484.75 342.51L485.05 341.56L485.35 340.61L485.64 339.66L485.93 338.71L486.22 337.76L486.51 336.81L486.79 335.86L487.06 334.91L487.33 333.95L487.6 333L487.86 332.05L488.11 331.1L488.35 330.15L488.59 329.21L488.83 328.26L489.05 327.32L489.28 326.38L489.5 325.43L489.71 324.49L489.92 323.55L490.12 322.61L490.32 321.66L490.51 320.72L490.7 319.78L490.89 318.83L491.07 317.88L491.25 316.93L491.42 315.98L491.58 315.03L491.74 314.08L491.89 313.13L492.04 312.18L492.19 311.23L492.33 310.28L492.46 309.33L492.6 308.38L492.73 307.44L492.86 306.49L492.99 305.54L493.12 304.6L493.25 303.65L493.37 302.71L493.5 301.76L493.62 300.81L493.74 299.87L493.85 298.92L493.97 297.97L494.08 297.02L494.19 296.08L494.29 295.13L494.39 294.18L494.49 293.23L494.58 292.28L494.67 291.33L494.75 290.38L494.83 289.42L494.9 288.47L494.97 287.51L495.04 286.56L495.1 285.6L495.16 284.65L495.22 283.7L495.27 282.75L495.33 281.8L495.37 280.86L495.42 279.92L495.47 278.99L495.51 278.07L495.55 277.14L495.59 276.21L495.62 275.29L495.65 274.36L495.68 273.44L495.71 272.53L495.73 271.61L495.75 270.71L495.77 269.81L495.79 268.91L495.81 268.03L495.82 267.15L495.84 266.28L495.85 265.43L495.86 264.58L495.87 263.75L495.88 262.92L495.89 262.11L495.89 261.31L495.89 260.51L495.89 259.72L495.89 258.93L495.89 258.15L495.89 257.36L495.9 256.58L495.9 255.8L495.9 255.01L495.9 254.21L493.5 254.19L493.49 254.99L493.48 255.78L493.47 256.57L493.47 257.35L493.46 258.14L493.45 258.92L493.44 259.71L493.43 260.49L493.42 261.29L493.41 262.09L493.4 262.89L493.39 263.71L493.37 264.53L493.35 265.37L493.33 266.23L493.3 267.09L493.28 267.97L493.25 268.85L493.23 269.74L493.2 270.64L493.17 271.54L493.14 272.44L493.1 273.35L493.07 274.27L493.03 275.18L492.98 276.1L492.94 277.02L492.89 277.93L492.84 278.86L492.79 279.78L492.73 280.72L492.67 281.65L492.61 282.59L492.55 283.53L492.49 284.47L492.42 285.42L492.35 286.36L492.27 287.31L492.19 288.25L492.11 289.19L492.02 290.13L491.93 291.07L491.84 292.01L491.74 292.94L491.63 293.88L491.53 294.82L491.42 295.75L491.3 296.69L491.18 297.63L491.06 298.57L490.94 299.5L490.81 300.44L490.68 301.38L490.55 302.32L490.41 303.26L490.28 304.2L490.14 305.14L490 306.08L489.87 307.02L489.73 307.96L489.58 308.9L489.44 309.84L489.29 310.78L489.14 311.72L488.98 312.65L488.82 313.59L488.66 314.52L488.49 315.46L488.31 316.39L488.13 317.32L487.94 318.25L487.75 319.18L487.56 320.1L487.36 321.03L487.15 321.96L486.94 322.88L486.73 323.81L486.51 324.74L486.29 325.66L486.06 326.59L485.83 327.51L485.59 328.44L485.34 329.37L485.09 330.3L484.84 331.23L484.58 332.16L484.31 333.09L484.03 334.02L483.75 334.96L483.47 335.89L483.18 336.83L482.88 337.76L482.59 338.7L482.29 339.64L481.98 340.58L481.67 341.52L481.37 342.46L481.06 343.4L480.74 344.33L480.43 345.27L480.11 346.2L479.79 347.14L479.46 348.08L479.13 349.01L478.8 349.95L478.46 350.89L478.13 351.83L477.79 352.77L477.45 353.7L477.1 354.64L476.76 355.58L476.41 356.52L476.06 357.48L475.7 358.45L475.34 359.44L474.98 360.44L474.61 361.44L474.24 362.43L473.87 363.42L473.5 364.39L473.14 365.34L472.78 366.27L472.42 367.16L472.07 368.02L471.73 368.83L471.39 369.59L471.07 370.31L470.76 370.97L470.46 371.59L470.16 372.18L469.87 372.74L469.58 373.27L469.3 373.78L469.01 374.29L468.71 374.79L468.41 375.29L468.1 375.81L467.77 376.33L467.43 376.88L467.07 377.45L466.71 378.04L466.35 378.61L465.99 379.18L465.63 379.75L465.27 380.31L464.9 380.87L464.53 381.43L464.14 382L463.73 382.57L463.31 383.15L462.87 383.75L462.4 384.36L461.9 384.98L461.37 385.63L460.8 386.31L460.18 387.03L459.51 387.79L458.81 388.58L458.09 389.38L457.34 390.19L456.59 391L455.83 391.81L455.08 392.6L454.34 393.36L453.62 394.1L452.93 394.79L452.28 395.44L451.67 396.02L451.1 396.56L450.58 397.06L450.08 397.51L449.61 397.92L449.17 398.31L448.74 398.66L448.33 399L447.91 399.32L447.49 399.63L447.06 399.94L446.6 400.25L446.12 400.57L445.61 400.9L445.06 401.24L444.48 401.6L443.9 401.95L443.31 402.3L442.7 402.64L442.09 402.99L441.46 403.32L440.82 403.65L440.16 403.98L439.49 404.3L438.81 404.62L438.11 404.93L437.39 405.24L436.65 405.54L435.89 405.83L435.1 406.11L434.29 406.4L433.45 406.68L432.6 406.95L431.72 407.22L430.83 407.49L429.92 407.75L428.99 408L428.06 408.25L427.11 408.49L426.16 408.73L425.2 408.95L424.23 409.17L423.26 409.38L422.28 409.58L421.27 409.78L420.24 409.97L419.19 410.15L418.12 410.33L417.04 410.5L415.96 410.66L414.88 410.81L413.81 410.96L412.75 411.1L411.71 411.23L410.7 411.36L409.71 411.47L408.76 411.58L407.84 411.67L406.96 411.76L406.11 411.84L405.28 411.91L404.47 411.98L403.68 412.03L402.89 412.08L402.12 412.12L401.34 412.15L400.56 412.17L399.77 412.19L398.96 412.2L398.14 412.21L397.3 412.21L396.44 412.2L395.57 412.18L394.67 412.15L393.77 412.12L392.85 412.08L391.93 412.03L391.01 411.97L390.09 411.91L389.18 411.84L388.27 411.77L387.38 411.7L386.5 411.62L385.65 411.54L384.82 411.46L384.02 411.38L383.24 411.29L382.47 411.19L381.72 411.09L380.98 410.98L380.25 410.87L379.52 410.75L378.79 410.63L378.06 410.51L377.33 410.39L376.59 410.27L375.84 410.15L375.09 410.04L374.33 409.92Z"/>
<path class="ya" d="M494.6 242.9L489.2 254.7L500 254.7Z"/>
<path class="ya" d="M637.33 414.48L636.58 414.58L635.85 414.69L635.12 414.8L634.39 414.91L633.66 415.02L632.92 415.14L632.18 415.25L631.43 415.36L630.66 415.47L629.89 415.57L629.1 415.67L628.29 415.77L627.46 415.86L626.62 415.94L625.76 416.02L624.88 416.09L623.98 416.16L623.06 416.23L622.14 416.29L621.2 416.35L620.25 416.4L619.3 416.45L618.35 416.5L617.4 416.53L616.46 416.56L615.53 416.58L614.61 416.59L613.7 416.59L612.82 416.58L611.97 416.57L611.13 416.55L610.3 416.52L609.48 416.49L608.66 416.45L607.84 416.4L607.02 416.34L606.19 416.28L605.35 416.2L604.49 416.12L603.6 416.03L602.7 415.93L601.76 415.82L600.79 415.7L599.78 415.58L598.74 415.44L597.68 415.3L596.61 415.15L595.51 414.98L594.41 414.82L593.3 414.64L592.2 414.45L591.1 414.26L590.01 414.06L588.94 413.85L587.89 413.64L586.86 413.42L585.86 413.19L584.86 412.96L583.87 412.71L582.88 412.46L581.9 412.2L580.93 411.94L579.97 411.66L579.02 411.38L578.09 411.1L577.17 410.8L576.27 410.5L575.39 410.2L574.53 409.89L573.69 409.57L572.87 409.25L572.07 408.92L571.29 408.58L570.53 408.24L569.79 407.89L569.07 407.53L568.37 407.17L567.68 406.81L567.01 406.44L566.35 406.06L565.71 405.69L565.08 405.31L564.47 404.93L563.86 404.56L563.28 404.18L562.73 403.82L562.21 403.47L561.7 403.12L561.21 402.76L560.74 402.4L560.26 402.03L559.79 401.64L559.31 401.23L558.83 400.8L558.33 400.35L557.81 399.86L557.26 399.34L556.67 398.78L556.04 398.15L555.37 397.48L554.66 396.75L553.93 395.99L553.18 395.2L552.42 394.39L551.65 393.56L550.89 392.72L550.14 391.88L549.4 391.06L548.69 390.24L548.01 389.45L547.37 388.69L546.77 387.97L546.22 387.28L545.7 386.61L545.2 385.95L544.73 385.31L544.28 384.68L543.86 384.06L543.45 383.46L543.06 382.86L542.68 382.27L542.31 381.68L541.95 381.1L541.59 380.52L541.23 379.93L540.87 379.35L540.52 378.77L540.18 378.21L539.85 377.67L539.53 377.13L539.21 376.6L538.9 376.06L538.6 375.52L538.29 374.96L537.99 374.38L537.68 373.78L537.37 373.14L537.05 372.47L536.73 371.76L536.39 371.01L536.05 370.2L535.7 369.34L535.34 368.45L534.98 367.53L534.62 366.58L534.26 365.61L533.9 364.62L533.53 363.62L533.17 362.61L532.81 361.6L532.45 360.6L532.1 359.61L531.75 358.63L531.41 357.68L531.07 356.73L530.74 355.78L530.4 354.84L530.07 353.89L529.73 352.94L529.4 352L529.07 351.05L528.75 350.1L528.42 349.15L528.1 348.2L527.79 347.25L527.47 346.3L527.16 345.35L526.86 344.4L526.55 343.46L526.25 342.51L525.95 341.56L525.65 340.61L525.36 339.66L525.07 338.71L524.78 337.76L524.49 336.81L524.21 335.86L523.94 334.91L523.67 333.95L523.4 333L523.14 332.05L522.89 331.1L522.65 330.15L522.41 329.21L522.17 328.26L521.95 327.32L521.72 326.38L521.5 325.43L521.29 324.49L521.08 323.55L520.88 322.61L520.68 321.66L520.49 320.72L520.3 319.78L520.11 318.83L519.93 317.88L519.75 316.93L519.58 315.98L519.42 315.03L519.26 314.08L519.11 313.13L518.96 312.18L518.81 311.23L518.67 310.28L518.54 309.33L518.4 308.38L518.27 307.44L518.14 306.49L518.01 305.54L517.88 304.6L517.75 303.65L517.63 302.71L517.5 301.76L517.38 300.81L517.26 299.87L517.15 298.92L517.03 297.97L516.92 297.02L516.81 296.08L516.71 295.13L516.61 294.18L516.51 293.23L516.42 292.28L516.33 291.33L516.25 290.38L516.17 289.42L516.1 288.47L516.03 287.51L515.96 286.56L515.9 285.6L515.84 284.65L515.78 283.7L515.73 282.75L515.67 281.8L515.63 280.86L515.58 279.92L515.53 278.99L515.49 278.07L515.45 277.14L515.41 276.21L515.38 275.29L515.35 274.36L515.32 273.44L515.29 272.53L515.27 271.61L515.25 270.71L515.23 269.81L515.21 268.91L515.19 268.03L515.18 267.15L515.16 266.28L515.15 265.43L515.14 264.58L515.13 263.75L515.12 262.92L515.11 262.11L515.11 261.31L515.11 260.51L515.11 259.72L515.11 258.93L515.11 258.15L515.11 257.36L515.1 256.58L515.1 255.8L515.1 255.01L515.1 254.21L517.5 254.19L517.51 254.99L517.52 255.78L517.53 256.57L517.53 257.35L517.54 258.14L517.55 258.92L517.56 259.71L517.57 260.49L517.58 261.29L517.59 262.09L517.6 262.89L517.61 263.71L517.63 264.53L517.65 265.37L517.67 266.23L517.7 267.09L517.72 267.97L517.75 268.85L517.77 269.74L517.8 270.64L517.83 271.54L517.86 272.44L517.9 273.35L517.93 274.27L517.97 275.18L518.02 276.1L518.06 277.02L518.11 277.93L518.16 278.86L518.21 279.78L518.27 280.72L518.33 281.65L518.39 282.59L518.45 283.53L518.51 284.47L518.58 285.42L518.65 286.36L518.73 287.31L518.81 288.25L518.89 289.19L518.98 290.13L519.07 291.07L519.16 292.01L519.26 292.94L519.37 293.88L519.47 294.82L519.58 295.75L519.7 296.69L519.82 297.63L519.94 298.57L520.06 299.5L520.19 300.44L520.32 301.38L520.45 302.32L520.59 303.26L520.72 304.2L520.86 305.14L521 306.08L521.13 307.02L521.27 307.96L521.42 308.9L521.56 309.84L521.71 310.78L521.86 311.72L522.02 312.65L522.18 313.59L522.34 314.52L522.51 315.46L522.69 316.39L522.87 317.32L523.06 318.25L523.25 319.18L523.44 320.1L523.64 321.03L523.85 321.96L524.06 322.88L524.27 323.81L524.49 324.74L524.71 325.66L524.94 326.59L525.17 327.51L525.41 328.44L525.66 329.37L525.91 330.3L526.16 331.23L526.42 332.16L526.69 333.09L526.97 334.02L527.25 334.96L527.53 335.89L527.82 336.83L528.12 337.76L528.41 338.7L528.71 339.64L529.02 340.58L529.33 341.52L529.63 342.46L529.94 343.4L530.26 344.33L530.57 345.27L530.89 346.2L531.21 347.14L531.54 348.08L531.87 349.01L532.2 349.95L532.54 350.89L532.87 351.83L533.21 352.77L533.55 353.7L533.9 354.64L534.24 355.58L534.59 356.52L534.94 357.48L535.3 358.45L535.66 359.44L536.02 360.44L536.39 361.44L536.76 362.43L537.13 363.42L537.5 364.39L537.86 365.34L538.22 366.27L538.58 367.16L538.93 368.02L539.27 368.83L539.61 369.59L539.93 370.31L540.24 370.97L540.54 371.59L540.84 372.18L541.13 372.74L541.42 373.27L541.7 373.78L541.99 374.29L542.29 374.79L542.59 375.29L542.9 375.81L543.23 376.33L543.57 376.88L543.93 377.45L544.29 378.04L544.65 378.61L545.01 379.18L545.37 379.75L545.73 380.31L546.1 380.87L546.47 381.43L546.86 382L547.27 382.57L547.69 383.15L548.13 383.75L548.6 384.36L549.1 384.98L549.63 385.63L550.2 386.31L550.82 387.03L551.49 387.79L552.19 388.58L552.91 389.38L553.66 390.19L554.41 391L555.17 391.81L555.92 392.6L556.66 393.36L557.38 394.1L558.07 394.79L558.72 395.44L559.33 396.02L559.9 396.56L560.42 397.06L560.92 397.51L561.39 397.92L561.83 398.31L562.26 398.66L562.67 399L563.09 399.32L563.51 399.63L563.94 399.94L564.4 400.25L564.88 400.57L565.39 400.9L565.94 401.24L566.52 401.6L567.1 401.95L567.69 402.3L568.3 402.64L568.91 402.99L569.54 403.32L570.18 403.65L570.84 403.98L571.51 404.3L572.19 404.62L572.89 404.93L573.61 405.24L574.35 405.54L575.11 405.83L575.9 406.11L576.71 406.4L577.55 406.68L578.4 406.95L579.28 407.22L580.17 407.49L581.08 407.75L582.01 408L582.94 408.25L583.89 408.49L584.84 408.73L585.8 408.95L586.77 409.17L587.74 409.38L588.72 409.58L589.73 409.78L590.76 409.97L591.81 410.15L592.88 410.33L593.96 410.5L595.04 410.66L596.12 410.81L597.19 410.96L598.25 411.1L599.29 411.23L600.3 411.36L601.29 411.47L602.24 411.58L603.16 411.67L604.04 411.76L604.89 411.84L605.72 411.91L606.53 411.98L607.32 412.03L608.11 412.08L608.88 412.12L609.66 412.15L610.44 412.17L611.23 412.19L612.04 412.2L612.86 412.21L613.7 412.21L614.56 412.2L615.43 412.18L616.33 412.15L617.23 412.12L618.15 412.08L619.07 412.03L619.99 411.97L620.91 411.91L621.82 411.84L622.73 411.77L623.62 411.7L624.5 411.62L625.35 411.54L626.18 411.46L626.98 411.38L627.76 411.29L628.53 411.19L629.28 411.09L630.02 410.98L630.75 410.87L631.48 410.75L632.21 410.63L632.94 410.51L633.67 410.39L634.41 410.27L635.16 410.15L635.91 410.04L636.67 409.92Z"/>
<path class="ya" d="M516.4 242.9L521.8 254.7L511 254.7Z"/>
<path class="ya" d="M373.67 526.18L374.42 526.28L375.15 526.39L375.88 526.5L376.61 526.61L377.34 526.72L378.08 526.84L378.82 526.95L379.57 527.06L380.34 527.17L381.11 527.27L381.9 527.37L382.71 527.47L383.54 527.56L384.38 527.64L385.24 527.72L386.12 527.79L387.02 527.86L387.94 527.93L388.86 527.99L389.8 528.05L390.75 528.1L391.7 528.15L392.65 528.2L393.6 528.23L394.54 528.26L395.47 528.28L396.39 528.29L397.3 528.29L398.18 528.28L399.03 528.27L399.87 528.25L400.7 528.22L401.52 528.19L402.34 528.15L403.16 528.1L403.98 528.04L404.81 527.98L405.65 527.9L406.51 527.82L407.4 527.73L408.3 527.63L409.24 527.52L410.21 527.4L411.22 527.28L412.26 527.14L413.32 527L414.39 526.85L415.49 526.68L416.59 526.52L417.7 526.34L418.8 526.15L419.9 525.96L420.99 525.76L422.06 525.55L423.11 525.34L424.14 525.12L425.14 524.89L426.14 524.66L427.13 524.41L428.12 524.16L429.1 523.9L430.07 523.64L431.03 523.36L431.98 523.08L432.91 522.8L433.83 522.5L434.73 522.2L435.61 521.9L436.47 521.59L437.31 521.27L438.13 520.95L438.93 520.62L439.71 520.28L440.47 519.94L441.21 519.59L441.93 519.23L442.63 518.87L443.32 518.51L443.99 518.14L444.65 517.76L445.29 517.39L445.92 517.01L446.53 516.63L447.14 516.26L447.72 515.88L448.27 515.52L448.79 515.17L449.3 514.82L449.79 514.46L450.26 514.1L450.74 513.73L451.21 513.34L451.69 512.93L452.17 512.5L452.67 512.05L453.19 511.56L453.74 511.04L454.33 510.48L454.96 509.85L455.63 509.18L456.34 508.45L457.07 507.69L457.82 506.9L458.58 506.09L459.35 505.26L460.11 504.42L460.86 503.58L461.6 502.76L462.31 501.94L462.99 501.15L463.63 500.39L464.23 499.67L464.78 498.98L465.3 498.31L465.8 497.65L466.27 497.01L466.72 496.38L467.14 495.76L467.55 495.16L467.94 494.56L468.32 493.97L468.69 493.38L469.05 492.8L469.41 492.22L469.77 491.63L470.13 491.05L470.48 490.47L470.82 489.91L471.15 489.37L471.47 488.83L471.79 488.3L472.1 487.76L472.4 487.22L472.71 486.66L473.01 486.08L473.32 485.48L473.63 484.84L473.95 484.17L474.27 483.46L474.61 482.71L474.95 481.9L475.3 481.04L475.66 480.15L476.02 479.23L476.38 478.28L476.74 477.31L477.1 476.32L477.47 475.32L477.83 474.31L478.19 473.3L478.55 472.3L478.9 471.31L479.25 470.33L479.59 469.38L479.93 468.43L480.26 467.48L480.6 466.54L480.93 465.59L481.27 464.64L481.6 463.7L481.93 462.75L482.25 461.8L482.58 460.85L482.9 459.9L483.21 458.95L483.53 458L483.84 457.05L484.14 456.1L484.45 455.16L484.75 454.21L485.05 453.26L485.35 452.31L485.64 451.36L485.93 450.41L486.22 449.46L486.51 448.51L486.79 447.56L487.06 446.61L487.33 445.65L487.6 444.7L487.86 443.75L488.11 442.8L488.35 441.85L488.59 440.91L488.83 439.96L489.05 439.02L489.28 438.08L489.5 437.13L489.71 436.19L489.92 435.25L490.12 434.31L490.32 433.36L490.51 432.42L490.7 431.48L490.89 430.53L491.07 429.58L491.25 428.63L491.42 427.68L491.58 426.73L491.74 425.78L491.89 424.83L492.04 423.88L492.19 422.93L492.33 421.98L492.46 421.03L492.6 420.08L492.73 419.14L492.86 418.19L492.99 417.24L493.12 416.3L493.25 415.35L493.37 414.41L493.5 413.46L493.62 412.51L493.74 411.57L493.85 410.62L493.97 409.67L494.08 408.72L494.19 407.78L494.29 406.83L494.39 405.88L494.49 404.93L494.58 403.98L494.67 403.03L494.75 402.08L494.83 401.12L494.9 400.17L494.97 399.21L495.04 398.26L495.1 397.3L495.16 396.35L495.22 395.4L495.27 394.45L495.33 393.5L495.37 392.56L495.42 391.62L495.47 390.69L495.51 389.77L495.55 388.84L495.59 387.91L495.62 386.99L495.65 386.06L495.68 385.14L495.71 384.23L495.73 383.31L495.75 382.41L495.77 381.51L495.79 380.61L495.81 379.73L495.82 378.85L495.84 377.98L495.85 377.13L495.86 376.28L495.87 375.45L495.88 374.62L495.89 373.81L495.89 373.01L495.89 372.21L495.89 371.42L495.89 370.63L495.89 369.85L495.89 369.06L495.9 368.28L495.9 367.5L495.9 366.71L495.9 365.91L493.5 365.89L493.49 366.69L493.48 367.48L493.47 368.27L493.47 369.05L493.46 369.84L493.45 370.62L493.44 371.41L493.43 372.19L493.42 372.99L493.41 373.79L493.4 374.59L493.39 375.41L493.37 376.23L493.35 377.07L493.33 377.93L493.3 378.79L493.28 379.67L493.25 380.55L493.23 381.44L493.2 382.34L493.17 383.24L493.14 384.14L493.1 385.05L493.07 385.97L493.03 386.88L492.98 387.8L492.94 388.72L492.89 389.63L492.84 390.56L492.79 391.48L492.73 392.42L492.67 393.35L492.61 394.29L492.55 395.23L492.49 396.17L492.42 397.12L492.35 398.06L492.27 399.01L492.19 399.95L492.11 400.89L492.02 401.83L491.93 402.77L491.84 403.71L491.74 404.64L491.63 405.58L491.53 406.52L491.42 407.45L491.3 408.39L491.18 409.33L491.06 410.27L490.94 411.2L490.81 412.14L490.68 413.08L490.55 414.02L490.41 414.96L490.28 415.9L490.14 416.84L490 417.78L489.87 418.72L489.73 419.66L489.58 420.6L489.44 421.54L489.29 422.48L489.14 423.42L488.98 424.35L488.82 425.29L488.66 426.22L488.49 427.16L488.31 428.09L488.13 429.02L487.94 429.95L487.75 430.88L487.56 431.8L487.36 432.73L487.15 433.66L486.94 434.58L486.73 435.51L486.51 436.44L486.29 437.36L486.06 438.29L485.83 439.21L485.59 440.14L485.34 441.07L485.09 442L484.84 442.93L484.58 443.86L484.31 444.79L484.03 445.72L483.75 446.66L483.47 447.59L483.18 448.53L482.88 449.46L482.59 450.4L482.29 451.34L481.98 452.28L481.67 453.22L481.37 454.16L481.06 455.1L480.74 456.03L480.43 456.97L480.11 457.9L479.79 458.84L479.46 459.78L479.13 460.71L478.8 461.65L478.46 462.59L478.13 463.53L477.79 464.47L477.45 465.4L477.1 466.34L476.76 467.28L476.41 468.22L476.06 469.18L475.7 470.15L475.34 471.14L474.98 472.14L474.61 473.14L474.24 474.13L473.87 475.12L473.5 476.09L473.14 477.04L472.78 477.97L472.42 478.86L472.07 479.72L471.73 480.53L471.39 481.29L471.07 482.01L470.76 482.67L470.46 483.29L470.16 483.88L469.87 484.44L469.58 484.97L469.3 485.48L469.01 485.99L468.71 486.49L468.41 486.99L468.1 487.51L467.77 488.03L467.43 488.58L467.07 489.15L466.71 489.74L466.35 490.31L465.99 490.88L465.63 491.45L465.27 492.01L464.9 492.57L464.53 493.13L464.14 493.7L463.73 494.27L463.31 494.85L462.87 495.45L462.4 496.06L461.9 496.68L461.37 497.33L460.8 498.01L460.18 498.73L459.51 499.49L458.81 500.28L458.09 501.08L457.34 501.89L456.59 502.7L455.83 503.51L455.08 504.3L454.34 505.06L453.62 505.8L452.93 506.49L452.28 507.14L451.67 507.72L451.1 508.26L450.58 508.76L450.08 509.21L449.61 509.62L449.17 510.01L448.74 510.36L448.33 510.7L447.91 511.02L447.49 511.33L447.06 511.64L446.6 511.95L446.12 512.27L445.61 512.6L445.06 512.94L444.48 513.3L443.9 513.65L443.31 514L442.7 514.34L442.09 514.69L441.46 515.02L440.82 515.35L440.16 515.68L439.49 516L438.81 516.32L438.11 516.63L437.39 516.94L436.65 517.24L435.89 517.53L435.1 517.81L434.29 518.1L433.45 518.38L432.6 518.65L431.72 518.92L430.83 519.19L429.92 519.45L428.99 519.7L428.06 519.95L427.11 520.19L426.16 520.43L425.2 520.65L424.23 520.87L423.26 521.08L422.28 521.28L421.27 521.48L420.24 521.67L419.19 521.85L418.12 522.03L417.04 522.2L415.96 522.36L414.88 522.51L413.81 522.66L412.75 522.8L411.71 522.93L410.7 523.06L409.71 523.17L408.76 523.28L407.84 523.37L406.96 523.46L406.11 523.54L405.28 523.61L404.47 523.68L403.68 523.73L402.89 523.78L402.12 523.82L401.34 523.85L400.56 523.87L399.77 523.89L398.96 523.9L398.14 523.91L397.3 523.91L396.44 523.9L395.57 523.88L394.67 523.85L393.77 523.82L392.85 523.78L391.93 523.73L391.01 523.67L390.09 523.61L389.18 523.54L388.27 523.47L387.38 523.4L386.5 523.32L385.65 523.24L384.82 523.16L384.02 523.08L383.24 522.99L382.47 522.89L381.72 522.79L380.98 522.68L380.25 522.57L379.52 522.45L378.79 522.33L378.06 522.21L377.33 522.09L376.59 521.97L375.84 521.85L375.09 521.74L374.33 521.62Z"/>
<path class="ya" d="M494.6 354.6L489.2 366.4L500 366.4Z"/>
<path class="ya" d="M637.33 526.18L636.58 526.28L635.85 526.39L635.12 526.5L634.39 526.61L633.66 526.72L632.92 526.84L632.18 526.95L631.43 527.06L630.66 527.17L629.89 527.27L629.1 527.37L628.29 527.47L627.46 527.56L626.62 527.64L625.76 527.72L624.88 527.79L623.98 527.86L623.06 527.93L622.14 527.99L621.2 528.05L620.25 528.1L619.3 528.15L618.35 528.2L617.4 528.23L616.46 528.26L615.53 528.28L614.61 528.29L613.7 528.29L612.82 528.28L611.97 528.27L611.13 528.25L610.3 528.22L609.48 528.19L608.66 528.15L607.84 528.1L607.02 528.04L606.19 527.98L605.35 527.9L604.49 527.82L603.6 527.73L602.7 527.63L601.76 527.52L600.79 527.4L599.78 527.28L598.74 527.14L597.68 527L596.61 526.85L595.51 526.68L594.41 526.52L593.3 526.34L592.2 526.15L591.1 525.96L590.01 525.76L588.94 525.55L587.89 525.34L586.86 525.12L585.86 524.89L584.86 524.66L583.87 524.41L582.88 524.16L581.9 523.9L580.93 523.64L579.97 523.36L579.02 523.08L578.09 522.8L577.17 522.5L576.27 522.2L575.39 521.9L574.53 521.59L573.69 521.27L572.87 520.95L572.07 520.62L571.29 520.28L570.53 519.94L569.79 519.59L569.07 519.23L568.37 518.87L567.68 518.51L567.01 518.14L566.35 517.76L565.71 517.39L565.08 517.01L564.47 516.63L563.86 516.26L563.28 515.88L562.73 515.52L562.21 515.17L561.7 514.82L561.21 514.46L560.74 514.1L560.26 513.73L559.79 513.34L559.31 512.93L558.83 512.5L558.33 512.05L557.81 511.56L557.26 511.04L556.67 510.48L556.04 509.85L555.37 509.18L554.66 508.45L553.93 507.69L553.18 506.9L552.42 506.09L551.65 505.26L550.89 504.42L550.14 503.58L549.4 502.76L548.69 501.94L548.01 501.15L547.37 500.39L546.77 499.67L546.22 498.98L545.7 498.31L545.2 497.65L544.73 497.01L544.28 496.38L543.86 495.76L543.45 495.16L543.06 494.56L542.68 493.97L542.31 493.38L541.95 492.8L541.59 492.22L541.23 491.63L540.87 491.05L540.52 490.47L540.18 489.91L539.85 489.37L539.53 488.83L539.21 488.3L538.9 487.76L538.6 487.22L538.29 486.66L537.99 486.08L537.68 485.48L537.37 484.84L537.05 484.17L536.73 483.46L536.39 482.71L536.05 481.9L535.7 481.04L535.34 480.15L534.98 479.23L534.62 478.28L534.26 477.31L533.9 476.32L533.53 475.32L533.17 474.31L532.81 473.3L532.45 472.3L532.1 471.31L531.75 470.33L531.41 469.38L531.07 468.43L530.74 467.48L530.4 466.54L530.07 465.59L529.73 464.64L529.4 463.7L529.07 462.75L528.75 461.8L528.42 460.85L528.1 459.9L527.79 458.95L527.47 458L527.16 457.05L526.86 456.1L526.55 455.16L526.25 454.21L525.95 453.26L525.65 452.31L525.36 451.36L525.07 450.41L524.78 449.46L524.49 448.51L524.21 447.56L523.94 446.61L523.67 445.65L523.4 444.7L523.14 443.75L522.89 442.8L522.65 441.85L522.41 440.91L522.17 439.96L521.95 439.02L521.72 438.08L521.5 437.13L521.29 436.19L521.08 435.25L520.88 434.31L520.68 433.36L520.49 432.42L520.3 431.48L520.11 430.53L519.93 429.58L519.75 428.63L519.58 427.68L519.42 426.73L519.26 425.78L519.11 424.83L518.96 423.88L518.81 422.93L518.67 421.98L518.54 421.03L518.4 420.08L518.27 419.14L518.14 418.19L518.01 417.24L517.88 416.3L517.75 415.35L517.63 414.41L517.5 413.46L517.38 412.51L517.26 411.57L517.15 410.62L517.03 409.67L516.92 408.72L516.81 407.78L516.71 406.83L516.61 405.88L516.51 404.93L516.42 403.98L516.33 403.03L516.25 402.08L516.17 401.12L516.1 400.17L516.03 399.21L515.96 398.26L515.9 397.3L515.84 396.35L515.78 395.4L515.73 394.45L515.67 393.5L515.63 392.56L515.58 391.62L515.53 390.69L515.49 389.77L515.45 388.84L515.41 387.91L515.38 386.99L515.35 386.06L515.32 385.14L515.29 384.23L515.27 383.31L515.25 382.41L515.23 381.51L515.21 380.61L515.19 379.73L515.18 378.85L515.16 377.98L515.15 377.13L515.14 376.28L515.13 375.45L515.12 374.62L515.11 373.81L515.11 373.01L515.11 372.21L515.11 371.42L515.11 370.63L515.11 369.85L515.11 369.06L515.1 368.28L515.1 367.5L515.1 366.71L515.1 365.91L517.5 365.89L517.51 366.69L517.52 367.48L517.53 368.27L517.53 369.05L517.54 369.84L517.55 370.62L517.56 371.41L517.57 372.19L517.58 372.99L517.59 373.79L517.6 374.59L517.61 375.41L517.63 376.23L517.65 377.07L517.67 377.93L517.7 378.79L517.72 379.67L517.75 380.55L517.77 381.44L517.8 382.34L517.83 383.24L517.86 384.14L517.9 385.05L517.93 385.97L517.97 386.88L518.02 387.8L518.06 388.72L518.11 389.63L518.16 390.56L518.21 391.48L518.27 392.42L518.33 393.35L518.39 394.29L518.45 395.23L518.51 396.17L518.58 397.12L518.65 398.06L518.73 399.01L518.81 399.95L518.89 400.89L518.98 401.83L519.07 402.77L519.16 403.71L519.26 404.64L519.37 405.58L519.47 406.52L519.58 407.45L519.7 408.39L519.82 409.33L519.94 410.27L520.06 411.2L520.19 412.14L520.32 413.08L520.45 414.02L520.59 414.96L520.72 415.9L520.86 416.84L521 417.78L521.13 418.72L521.27 419.66L521.42 420.6L521.56 421.54L521.71 422.48L521.86 423.42L522.02 424.35L522.18 425.29L522.34 426.22L522.51 427.16L522.69 428.09L522.87 429.02L523.06 429.95L523.25 430.88L523.44 431.8L523.64 432.73L523.85 433.66L524.06 434.58L524.27 435.51L524.49 436.44L524.71 437.36L524.94 438.29L525.17 439.21L525.41 440.14L525.66 441.07L525.91 442L526.16 442.93L526.42 443.86L526.69 444.79L526.97 445.72L527.25 446.66L527.53 447.59L527.82 448.53L528.12 449.46L528.41 450.4L528.71 451.34L529.02 452.28L529.33 453.22L529.63 454.16L529.94 455.1L530.26 456.03L530.57 456.97L530.89 457.9L531.21 458.84L531.54 459.78L531.87 460.71L532.2 461.65L532.54 462.59L532.87 463.53L533.21 464.47L533.55 465.4L533.9 466.34L534.24 467.28L534.59 468.22L534.94 469.18L535.3 470.15L535.66 471.14L536.02 472.14L536.39 473.14L536.76 474.13L537.13 475.12L537.5 476.09L537.86 477.04L538.22 477.97L538.58 478.86L538.93 479.72L539.27 480.53L539.61 481.29L539.93 482.01L540.24 482.67L540.54 483.29L540.84 483.88L541.13 484.44L541.42 484.97L541.7 485.48L541.99 485.99L542.29 486.49L542.59 486.99L542.9 487.51L543.23 488.03L543.57 488.58L543.93 489.15L544.29 489.74L544.65 490.31L545.01 490.88L545.37 491.45L545.73 492.01L546.1 492.57L546.47 493.13L546.86 493.7L547.27 494.27L547.69 494.85L548.13 495.45L548.6 496.06L549.1 496.68L549.63 497.33L550.2 498.01L550.82 498.73L551.49 499.49L552.19 500.28L552.91 501.08L553.66 501.89L554.41 502.7L555.17 503.51L555.92 504.3L556.66 505.06L557.38 505.8L558.07 506.49L558.72 507.14L559.33 507.72L559.9 508.26L560.42 508.76L560.92 509.21L561.39 509.62L561.83 510.01L562.26 510.36L562.67 510.7L563.09 511.02L563.51 511.33L563.94 511.64L564.4 511.95L564.88 512.27L565.39 512.6L565.94 512.94L566.52 513.3L567.1 513.65L567.69 514L568.3 514.34L568.91 514.69L569.54 515.02L570.18 515.35L570.84 515.68L571.51 516L572.19 516.32L572.89 516.63L573.61 516.94L574.35 517.24L575.11 517.53L575.9 517.81L576.71 518.1L577.55 518.38L578.4 518.65L579.28 518.92L580.17 519.19L581.08 519.45L582.01 519.7L582.94 519.95L583.89 520.19L584.84 520.43L585.8 520.65L586.77 520.87L587.74 521.08L588.72 521.28L589.73 521.48L590.76 521.67L591.81 521.85L592.88 522.03L593.96 522.2L595.04 522.36L596.12 522.51L597.19 522.66L598.25 522.8L599.29 522.93L600.3 523.06L601.29 523.17L602.24 523.28L603.16 523.37L604.04 523.46L604.89 523.54L605.72 523.61L606.53 523.68L607.32 523.73L608.11 523.78L608.88 523.82L609.66 523.85L610.44 523.87L611.23 523.89L612.04 523.9L612.86 523.91L613.7 523.91L614.56 523.9L615.43 523.88L616.33 523.85L617.23 523.82L618.15 523.78L619.07 523.73L619.99 523.67L620.91 523.61L621.82 523.54L622.73 523.47L623.62 523.4L624.5 523.32L625.35 523.24L626.18 523.16L626.98 523.08L627.76 522.99L628.53 522.89L629.28 522.79L630.02 522.68L630.75 522.57L631.48 522.45L632.21 522.33L632.94 522.21L633.67 522.09L634.41 521.97L635.16 521.85L635.91 521.74L636.67 521.62Z"/>
<path class="ya" d="M516.4 354.6L521.8 366.4L511 366.4Z"/>
<path class="ya" d="M637.33 637.08L636.58 637.18L635.85 637.29L635.12 637.4L634.39 637.51L633.66 637.62L632.92 637.74L632.18 637.85L631.43 637.96L630.66 638.07L629.89 638.17L629.1 638.27L628.29 638.37L627.46 638.46L626.62 638.54L625.76 638.62L624.88 638.69L623.98 638.76L623.06 638.83L622.14 638.89L621.2 638.95L620.25 639L619.3 639.05L618.35 639.1L617.4 639.13L616.46 639.16L615.53 639.18L614.61 639.19L613.7 639.19L612.82 639.18L611.97 639.17L611.13 639.15L610.3 639.12L609.48 639.09L608.66 639.05L607.84 639L607.02 638.94L606.19 638.88L605.35 638.8L604.49 638.72L603.6 638.63L602.7 638.53L601.76 638.42L600.79 638.3L599.78 638.18L598.74 638.04L597.68 637.9L596.61 637.75L595.51 637.58L594.41 637.42L593.3 637.24L592.2 637.05L591.1 636.86L590.01 636.66L588.94 636.45L587.89 636.24L586.86 636.02L585.86 635.79L584.86 635.56L583.87 635.31L582.88 635.06L581.9 634.8L580.93 634.54L579.97 634.26L579.02 633.98L578.09 633.7L577.17 633.4L576.27 633.1L575.39 632.8L574.53 632.49L573.69 632.17L572.87 631.85L572.07 631.52L571.29 631.18L570.53 630.84L569.79 630.49L569.07 630.13L568.37 629.77L567.68 629.41L567.01 629.04L566.35 628.66L565.71 628.29L565.08 627.91L564.47 627.53L563.86 627.16L563.28 626.78L562.73 626.42L562.21 626.07L561.7 625.72L561.21 625.36L560.74 625L560.26 624.63L559.79 624.24L559.31 623.83L558.83 623.4L558.33 622.95L557.81 622.46L557.26 621.94L556.67 621.38L556.04 620.75L555.37 620.08L554.66 619.35L553.93 618.59L553.18 617.8L552.42 616.99L551.65 616.16L550.89 615.32L550.14 614.48L549.4 613.66L548.69 612.84L548.01 612.05L547.37 611.29L546.77 610.57L546.22 609.88L545.7 609.21L545.2 608.55L544.73 607.91L544.28 607.28L543.86 606.66L543.45 606.06L543.06 605.46L542.68 604.87L542.31 604.28L541.95 603.7L541.59 603.12L541.23 602.53L540.87 601.95L540.52 601.37L540.18 600.81L539.85 600.27L539.53 599.73L539.21 599.2L538.9 598.66L538.6 598.12L538.29 597.56L537.99 596.98L537.68 596.38L537.37 595.74L537.05 595.07L536.73 594.36L536.39 593.61L536.05 592.8L535.7 591.94L535.34 591.05L534.98 590.13L534.62 589.18L534.26 588.21L533.9 587.22L533.53 586.22L533.17 585.21L532.81 584.2L532.45 583.2L532.1 582.21L531.75 581.23L531.41 580.28L531.07 579.33L530.74 578.38L530.4 577.44L530.07 576.49L529.73 575.54L529.4 574.6L529.07 573.65L528.75 572.7L528.42 571.75L528.1 570.8L527.79 569.85L527.47 568.9L527.16 567.95L526.86 567L526.55 566.06L526.25 565.11L525.95 564.16L525.65 563.21L525.36 562.26L525.07 561.31L524.78 560.36L524.49 559.41L524.21 558.46L523.94 557.51L523.67 556.55L523.4 555.6L523.14 554.65L522.89 553.7L522.65 552.75L522.41 551.81L522.17 550.86L521.95 549.92L521.72 548.98L521.5 548.03L521.29 547.09L521.08 546.15L520.88 545.21L520.68 544.26L520.49 543.32L520.3 542.38L520.11 541.43L519.93 540.48L519.75 539.53L519.58 538.58L519.42 537.63L519.26 536.68L519.11 535.73L518.96 534.78L518.81 533.83L518.67 532.88L518.54 531.93L518.4 530.98L518.27 530.04L518.14 529.09L518.01 528.14L517.88 527.2L517.75 526.25L517.63 525.31L517.5 524.36L517.38 523.41L517.26 522.47L517.15 521.52L517.03 520.57L516.92 519.62L516.81 518.68L516.71 517.73L516.61 516.78L516.51 515.83L516.42 514.88L516.33 513.93L516.25 512.98L516.17 512.02L516.1 511.07L516.03 510.11L515.96 509.16L515.9 508.2L515.84 507.25L515.78 506.3L515.73 505.35L515.67 504.4L515.63 503.46L515.58 502.52L515.53 501.59L515.49 500.67L515.45 499.74L515.41 498.81L515.38 497.89L515.35 496.96L515.32 496.04L515.29 495.13L515.27 494.21L515.25 493.31L515.23 492.41L515.21 491.51L515.19 490.63L515.18 489.75L515.16 488.88L515.15 488.03L515.14 487.18L515.13 486.35L515.12 485.52L515.11 484.71L515.11 483.91L515.11 483.11L515.11 482.32L515.11 481.53L515.11 480.75L515.11 479.96L515.1 479.18L515.1 478.4L515.1 477.61L515.1 476.81L517.5 476.79L517.51 477.59L517.52 478.38L517.53 479.17L517.53 479.95L517.54 480.74L517.55 481.52L517.56 482.31L517.57 483.09L517.58 483.89L517.59 484.69L517.6 485.49L517.61 486.31L517.63 487.13L517.65 487.97L517.67 488.83L517.7 489.69L517.72 490.57L517.75 491.45L517.77 492.34L517.8 493.24L517.83 494.14L517.86 495.04L517.9 495.95L517.93 496.87L517.97 497.78L518.02 498.7L518.06 499.62L518.11 500.53L518.16 501.46L518.21 502.38L518.27 503.32L518.33 504.25L518.39 505.19L518.45 506.13L518.51 507.07L518.58 508.02L518.65 508.96L518.73 509.91L518.81 510.85L518.89 511.79L518.98 512.73L519.07 513.67L519.16 514.61L519.26 515.54L519.37 516.48L519.47 517.42L519.58 518.35L519.7 519.29L519.82 520.23L519.94 521.17L520.06 522.1L520.19 523.04L520.32 523.98L520.45 524.92L520.59 525.86L520.72 526.8L520.86 527.74L521 528.68L521.13 529.62L521.27 530.56L521.42 531.5L521.56 532.44L521.71 533.38L521.86 534.32L522.02 535.25L522.18 536.19L522.34 537.12L522.51 538.06L522.69 538.99L522.87 539.92L523.06 540.85L523.25 541.78L523.44 542.7L523.64 543.63L523.85 544.56L524.06 545.48L524.27 546.41L524.49 547.34L524.71 548.26L524.94 549.19L525.17 550.11L525.41 551.04L525.66 551.97L525.91 552.9L526.16 553.83L526.42 554.76L526.69 555.69L526.97 556.62L527.25 557.56L527.53 558.49L527.82 559.43L528.12 560.36L528.41 561.3L528.71 562.24L529.02 563.18L529.33 564.12L529.63 565.06L529.94 566L530.26 566.93L530.57 567.87L530.89 568.8L531.21 569.74L531.54 570.68L531.87 571.61L532.2 572.55L532.54 573.49L532.87 574.43L533.21 575.37L533.55 576.3L533.9 577.24L534.24 578.18L534.59 579.12L534.94 580.08L535.3 581.05L535.66 582.04L536.02 583.04L536.39 584.04L536.76 585.03L537.13 586.02L537.5 586.99L537.86 587.94L538.22 588.87L538.58 589.76L538.93 590.62L539.27 591.43L539.61 592.19L539.93 592.91L540.24 593.57L540.54 594.19L540.84 594.78L541.13 595.34L541.42 595.87L541.7 596.38L541.99 596.89L542.29 597.39L542.59 597.89L542.9 598.41L543.23 598.93L543.57 599.48L543.93 600.05L544.29 600.64L544.65 601.21L545.01 601.78L545.37 602.35L545.73 602.91L546.1 603.47L546.47 604.03L546.86 604.6L547.27 605.17L547.69 605.75L548.13 606.35L548.6 606.96L549.1 607.58L549.63 608.23L550.2 608.91L550.82 609.63L551.49 610.39L552.19 611.18L552.91 611.98L553.66 612.79L554.41 613.6L555.17 614.41L555.92 615.2L556.66 615.96L557.38 616.7L558.07 617.39L558.72 618.04L559.33 618.62L559.9 619.16L560.42 619.66L560.92 620.11L561.39 620.52L561.83 620.91L562.26 621.26L562.67 621.6L563.09 621.92L563.51 622.23L563.94 622.54L564.4 622.85L564.88 623.17L565.39 623.5L565.94 623.84L566.52 624.2L567.1 624.55L567.69 624.9L568.3 625.24L568.91 625.59L569.54 625.92L570.18 626.25L570.84 626.58L571.51 626.9L572.19 627.22L572.89 627.53L573.61 627.84L574.35 628.14L575.11 628.43L575.9 628.71L576.71 629L577.55 629.28L578.4 629.55L579.28 629.82L580.17 630.09L581.08 630.35L582.01 630.6L582.94 630.85L583.89 631.09L584.84 631.33L585.8 631.55L586.77 631.77L587.74 631.98L588.72 632.18L589.73 632.38L590.76 632.57L591.81 632.75L592.88 632.93L593.96 633.1L595.04 633.26L596.12 633.41L597.19 633.56L598.25 633.7L599.29 633.83L600.3 633.96L601.29 634.07L602.24 634.18L603.16 634.27L604.04 634.36L604.89 634.44L605.72 634.51L606.53 634.58L607.32 634.63L608.11 634.68L608.88 634.72L609.66 634.75L610.44 634.77L611.23 634.79L612.04 634.8L612.86 634.81L613.7 634.81L614.56 634.8L615.43 634.78L616.33 634.75L617.23 634.72L618.15 634.68L619.07 634.63L619.99 634.57L620.91 634.51L621.82 634.44L622.73 634.37L623.62 634.3L624.5 634.22L625.35 634.14L626.18 634.06L626.98 633.98L627.76 633.89L628.53 633.79L629.28 633.69L630.02 633.58L630.75 633.47L631.48 633.35L632.21 633.23L632.94 633.11L633.67 632.99L634.41 632.87L635.16 632.75L635.91 632.64L636.67 632.52Z" clip-path="url(#yclip)"/>
<path class="ya" d="M516.4 465.5L521.8 477.3L511 477.3Z"/>
<path class="ba" d="M108.1 185.1L108.98 184.01L109.85 182.91L110.7 181.8L111.56 180.68L112.42 179.58L113.29 178.48L114.18 177.39L115.09 176.33L116.02 175.3L117 174.3L117.98 173.33L118.95 172.39L119.92 171.47L120.9 170.56L121.92 169.68L122.98 168.82L124.1 167.97L125.31 167.13L126.6 166.31L128 165.5L129.54 164.68L131.22 163.86L133.02 163.03L134.9 162.21L136.83 161.41L138.78 160.65L140.72 159.94L142.62 159.28L144.46 158.7L146.2 158.2L147.85 157.78L149.44 157.41L150.98 157.11L152.49 156.86L153.99 156.67L155.47 156.52L156.97 156.43L158.48 156.38L160.02 156.37L161.6 156.4L163.21 156.47L164.83 156.59L166.45 156.75L168.08 156.95L169.74 157.21L171.41 157.51L173.11 157.85L174.84 158.25L176.6 158.7L178.4 159.2L180.24 159.77L182.12 160.4L184.03 161.11L185.97 161.86L187.94 162.66L189.92 163.48L191.93 164.33L193.95 165.19L195.97 166.05L198 166.9L200.04 167.77L202.11 168.68L204.2 169.62L206.3 170.57L208.41 171.54L210.53 172.49L212.66 173.43L214.78 174.34L216.89 175.2L219 176L221.1 176.76L223.2 177.49L225.3 178.2L227.4 178.88L229.5 179.53L231.6 180.14L233.7 180.73L235.8 181.29L237.9 181.81L240 182.3L242.1 182.76L244.2 183.18L246.3 183.58L248.4 183.95L250.5 184.28L252.6 184.58L254.7 184.84L256.8 185.07L258.9 185.25L261 185.4L263.1 185.5L265.2 185.57L267.3 185.6L269.4 185.58L271.5 185.54L273.6 185.46L275.7 185.34L277.8 185.19L279.9 185.01L282 184.8L284.1 184.55L286.2 184.26L288.3 183.94L290.4 183.57L292.5 183.18L294.6 182.76L296.7 182.32L298.8 181.86L300.9 181.39L303 180.9L305.08 180.4L307.14 179.89L309.19 179.36L311.23 178.81L313.28 178.24L315.34 177.64L317.44 177.02L319.57 176.38L321.75 175.7L324 175L326.31 174.26L328.69 173.47L331.12 172.64L333.58 171.79L336.07 170.91L338.59 170.02L341.11 169.13L343.62 168.24L346.12 167.36L348.6 166.5L347.6 163.6L359.7 162.1L352.6 172.6L349.7 168.9L347.4 169.77L345.09 170.65L342.77 171.54L340.45 172.43L338.13 173.32L335.82 174.2L333.53 175.06L331.26 175.9L329.01 176.72L326.8 177.5L324.62 178.26L322.48 179L320.36 179.72L318.26 180.42L316.18 181.11L314.11 181.77L312.04 182.41L309.97 183.03L307.89 183.63L305.8 184.2L303.69 184.75L301.58 185.29L299.46 185.81L297.33 186.31L295.21 186.78L293.1 187.23L291 187.65L288.91 188.03L286.84 188.39L284.8 188.7L282.78 188.98L280.77 189.22L278.77 189.44L276.79 189.62L274.82 189.77L272.87 189.89L270.93 189.98L269.01 190.05L267.1 190.09L265.2 190.1L263.34 190.09L261.52 190.06L259.73 190L257.95 189.91L256.19 189.79L254.41 189.65L252.62 189.47L250.8 189.25L248.93 188.99L247 188.7L245.01 188.37L242.98 188L240.91 187.6L238.8 187.16L236.67 186.69L234.53 186.18L232.39 185.64L230.24 185.06L228.11 184.45L226 183.8L223.9 183.1L221.8 182.34L219.7 181.54L217.6 180.69L215.5 179.82L213.4 178.93L211.3 178.03L209.2 177.14L207.1 176.26L205 175.4L202.88 174.54L200.73 173.64L198.57 172.73L196.4 171.8L194.24 170.89L192.1 170.01L189.99 169.16L187.93 168.37L185.93 167.64L184 167L182.14 166.43L180.33 165.92L178.56 165.46L176.84 165.05L175.16 164.68L173.52 164.36L171.9 164.09L170.31 163.85L168.75 163.66L167.2 163.5L165.7 163.38L164.27 163.29L162.88 163.25L161.53 163.24L160.2 163.28L158.87 163.37L157.52 163.5L156.13 163.68L154.7 163.91L153.2 164.2L151.63 164.53L150 164.91L148.32 165.32L146.61 165.78L144.89 166.3L143.15 166.87L141.43 167.5L139.72 168.2L138.04 168.96L136.4 169.8L134.79 170.73L133.17 171.74L131.55 172.84L129.95 174.01L128.37 175.22L126.81 176.49L125.29 177.78L123.81 179.08L122.38 180.4L121 181.7L119.69 183.01L118.45 184.37L117.26 185.75L116.12 187.15L115.01 188.57L113.91 190L112.83 191.43L111.74 192.87L110.63 194.29L109.5 195.7Z"/>
<path class="ba" d="M899.6 185.1L898.72 184.01L897.85 182.91L897 181.8L896.14 180.68L895.28 179.58L894.41 178.48L893.52 177.39L892.61 176.33L891.68 175.3L890.7 174.3L889.72 173.33L888.75 172.39L887.78 171.47L886.8 170.56L885.78 169.68L884.72 168.82L883.6 167.97L882.39 167.13L881.1 166.31L879.7 165.5L878.16 164.68L876.48 163.86L874.68 163.03L872.8 162.21L870.88 161.41L868.92 160.65L866.98 159.94L865.08 159.28L863.24 158.7L861.5 158.2L859.85 157.78L858.26 157.41L856.72 157.11L855.21 156.86L853.71 156.67L852.23 156.52L850.73 156.43L849.22 156.38L847.68 156.37L846.1 156.4L844.49 156.47L842.87 156.59L841.25 156.75L839.62 156.95L837.96 157.21L836.29 157.51L834.59 157.85L832.86 158.25L831.1 158.7L829.3 159.2L827.46 159.77L825.58 160.4L823.67 161.11L821.73 161.86L819.76 162.66L817.78 163.48L815.77 164.33L813.75 165.19L811.73 166.05L809.7 166.9L807.66 167.77L805.59 168.68L803.5 169.62L801.4 170.57L799.29 171.54L797.17 172.49L795.04 173.43L792.92 174.34L790.81 175.2L788.7 176L786.6 176.76L784.5 177.49L782.4 178.2L780.3 178.88L778.2 179.53L776.1 180.14L774 180.73L771.9 181.29L769.8 181.81L767.7 182.3L765.6 182.76L763.5 183.18L761.4 183.58L759.3 183.95L757.2 184.28L755.1 184.58L753 184.84L750.9 185.07L748.8 185.25L746.7 185.4L744.6 185.5L742.5 185.57L740.4 185.6L738.3 185.58L736.2 185.54L734.1 185.46L732 185.34L729.9 185.19L727.8 185.01L725.7 184.8L723.6 184.55L721.5 184.26L719.4 183.94L717.3 183.57L715.2 183.18L713.1 182.76L711 182.32L708.9 181.86L706.8 181.39L704.7 180.9L702.62 180.4L700.56 179.89L698.51 179.36L696.47 178.81L694.42 178.24L692.36 177.64L690.26 177.02L688.13 176.38L685.95 175.7L683.7 175L681.39 174.26L679.01 173.47L676.58 172.64L674.12 171.79L671.63 170.91L669.11 170.02L666.59 169.13L664.08 168.24L661.58 167.36L659.1 166.5L660.1 163.6L648 162.1L655.1 172.6L658 168.9L660.3 169.77L662.61 170.65L664.93 171.54L667.25 172.43L669.57 173.32L671.88 174.2L674.17 175.06L676.44 175.9L678.69 176.72L680.9 177.5L683.08 178.26L685.22 179L687.34 179.72L689.44 180.42L691.52 181.11L693.59 181.77L695.66 182.41L697.73 183.03L699.81 183.63L701.9 184.2L704.01 184.75L706.12 185.29L708.24 185.81L710.37 186.31L712.49 186.78L714.6 187.23L716.7 187.65L718.79 188.03L720.86 188.39L722.9 188.7L724.92 188.98L726.93 189.22L728.93 189.44L730.91 189.62L732.88 189.77L734.83 189.89L736.77 189.98L738.69 190.05L740.6 190.09L742.5 190.1L744.36 190.09L746.18 190.06L747.97 190L749.75 189.91L751.51 189.79L753.29 189.65L755.08 189.47L756.9 189.25L758.77 188.99L760.7 188.7L762.69 188.37L764.72 188L766.79 187.6L768.9 187.16L771.03 186.69L773.17 186.18L775.31 185.64L777.46 185.06L779.59 184.45L781.7 183.8L783.8 183.1L785.9 182.34L788 181.54L790.1 180.69L792.2 179.82L794.3 178.93L796.4 178.03L798.5 177.14L800.6 176.26L802.7 175.4L804.82 174.54L806.97 173.64L809.13 172.73L811.3 171.8L813.46 170.89L815.6 170.01L817.71 169.16L819.77 168.37L821.77 167.64L823.7 167L825.56 166.43L827.37 165.92L829.14 165.46L830.86 165.05L832.54 164.68L834.18 164.36L835.8 164.09L837.39 163.85L838.95 163.66L840.5 163.5L842 163.38L843.43 163.29L844.82 163.25L846.17 163.24L847.5 163.28L848.83 163.37L850.18 163.5L851.57 163.68L853 163.91L854.5 164.2L856.07 164.53L857.7 164.91L859.38 165.32L861.09 165.78L862.81 166.3L864.55 166.87L866.27 167.5L867.98 168.2L869.66 168.96L871.3 169.8L872.91 170.73L874.53 171.74L876.15 172.84L877.75 174.01L879.33 175.22L880.89 176.49L882.41 177.78L883.89 179.08L885.32 180.4L886.7 181.7L888.01 183.01L889.25 184.37L890.44 185.75L891.58 187.15L892.69 188.57L893.79 190L894.87 191.43L895.96 192.87L897.07 194.29L898.2 195.7Z"/>
<path class="ba" d="M108.1 294.85L108.98 293.76L109.85 292.66L110.7 291.55L111.56 290.43L112.42 289.33L113.29 288.23L114.18 287.14L115.09 286.08L116.02 285.05L117 284.05L117.98 283.08L118.95 282.14L119.92 281.22L120.9 280.31L121.92 279.43L122.98 278.57L124.1 277.72L125.31 276.88L126.6 276.06L128 275.25L129.54 274.43L131.22 273.61L133.02 272.78L134.9 271.96L136.83 271.16L138.78 270.4L140.72 269.69L142.62 269.03L144.46 268.45L146.2 267.95L147.85 267.53L149.44 267.16L150.98 266.86L152.49 266.61L153.99 266.42L155.47 266.27L156.97 266.18L158.48 266.13L160.02 266.12L161.6 266.15L163.21 266.22L164.83 266.34L166.45 266.5L168.08 266.7L169.74 266.96L171.41 267.26L173.11 267.6L174.84 268L176.6 268.45L178.4 268.95L180.24 269.52L182.12 270.15L184.03 270.86L185.97 271.61L187.94 272.41L189.92 273.23L191.93 274.08L193.95 274.94L195.97 275.8L198 276.65L200.04 277.52L202.11 278.43L204.2 279.37L206.3 280.32L208.41 281.29L210.53 282.24L212.66 283.18L214.78 284.09L216.89 284.95L219 285.75L221.1 286.51L223.2 287.24L225.3 287.95L227.4 288.63L229.5 289.27L231.6 289.89L233.7 290.48L235.8 291.04L237.9 291.56L240 292.05L242.1 292.51L244.2 292.93L246.3 293.33L248.4 293.7L250.5 294.03L252.6 294.33L254.7 294.59L256.8 294.82L258.9 295L261 295.15L263.1 295.25L265.2 295.32L267.3 295.35L269.4 295.33L271.5 295.29L273.6 295.21L275.7 295.09L277.8 294.94L279.9 294.76L282 294.55L284.1 294.3L286.2 294.01L288.3 293.69L290.4 293.32L292.5 292.93L294.6 292.51L296.7 292.07L298.8 291.61L300.9 291.14L303 290.65L305.08 290.15L307.14 289.64L309.19 289.11L311.23 288.56L313.28 287.99L315.34 287.39L317.44 286.77L319.57 286.13L321.75 285.45L324 284.75L326.31 284.01L328.69 283.22L331.12 282.39L333.58 281.54L336.07 280.66L338.59 279.77L341.11 278.88L343.62 277.99L346.12 277.11L348.6 276.25L347.6 273.35L359.7 271.85L352.6 282.35L349.7 278.65L347.4 279.52L345.09 280.4L342.77 281.29L340.45 282.18L338.13 283.07L335.82 283.95L333.53 284.81L331.26 285.65L329.01 286.47L326.8 287.25L324.62 288.01L322.48 288.75L320.36 289.47L318.26 290.17L316.18 290.86L314.11 291.52L312.04 292.16L309.97 292.78L307.89 293.38L305.8 293.95L303.69 294.5L301.58 295.04L299.46 295.56L297.33 296.06L295.21 296.53L293.1 296.98L291 297.4L288.91 297.78L286.84 298.14L284.8 298.45L282.78 298.73L280.77 298.97L278.77 299.19L276.79 299.37L274.82 299.52L272.87 299.64L270.93 299.73L269.01 299.8L267.1 299.84L265.2 299.85L263.34 299.84L261.52 299.81L259.73 299.75L257.95 299.66L256.19 299.54L254.41 299.4L252.62 299.22L250.8 299L248.93 298.74L247 298.45L245.01 298.12L242.98 297.75L240.91 297.35L238.8 296.91L236.67 296.44L234.53 295.93L232.39 295.39L230.24 294.81L228.11 294.2L226 293.55L223.9 292.85L221.8 292.09L219.7 291.29L217.6 290.44L215.5 289.57L213.4 288.68L211.3 287.78L209.2 286.89L207.1 286.01L205 285.15L202.88 284.29L200.73 283.39L198.57 282.48L196.4 281.55L194.24 280.64L192.1 279.76L189.99 278.91L187.93 278.12L185.93 277.39L184 276.75L182.14 276.18L180.33 275.67L178.56 275.21L176.84 274.8L175.16 274.43L173.52 274.11L171.9 273.84L170.31 273.6L168.75 273.41L167.2 273.25L165.7 273.13L164.27 273.04L162.88 273L161.53 272.99L160.2 273.03L158.87 273.12L157.52 273.25L156.13 273.43L154.7 273.66L153.2 273.95L151.63 274.28L150 274.66L148.32 275.07L146.61 275.53L144.89 276.05L143.15 276.62L141.43 277.25L139.72 277.95L138.04 278.71L136.4 279.55L134.79 280.48L133.17 281.49L131.55 282.59L129.95 283.76L128.37 284.97L126.81 286.24L125.29 287.53L123.81 288.83L122.38 290.15L121 291.45L119.69 292.76L118.45 294.12L117.26 295.5L116.12 296.9L115.01 298.32L113.91 299.75L112.83 301.18L111.74 302.62L110.63 304.04L109.5 305.45Z"/>
<path class="ba" d="M899.6 294.85L898.72 293.76L897.85 292.66L897 291.55L896.14 290.43L895.28 289.33L894.41 288.23L893.52 287.14L892.61 286.08L891.68 285.05L890.7 284.05L889.72 283.08L888.75 282.14L887.78 281.22L886.8 280.31L885.78 279.43L884.72 278.57L883.6 277.72L882.39 276.88L881.1 276.06L879.7 275.25L878.16 274.43L876.48 273.61L874.68 272.78L872.8 271.96L870.88 271.16L868.92 270.4L866.98 269.69L865.08 269.03L863.24 268.45L861.5 267.95L859.85 267.53L858.26 267.16L856.72 266.86L855.21 266.61L853.71 266.42L852.23 266.27L850.73 266.18L849.22 266.13L847.68 266.12L846.1 266.15L844.49 266.22L842.87 266.34L841.25 266.5L839.62 266.7L837.96 266.96L836.29 267.26L834.59 267.6L832.86 268L831.1 268.45L829.3 268.95L827.46 269.52L825.58 270.15L823.67 270.86L821.73 271.61L819.76 272.41L817.78 273.23L815.77 274.08L813.75 274.94L811.73 275.8L809.7 276.65L807.66 277.52L805.59 278.43L803.5 279.37L801.4 280.32L799.29 281.29L797.17 282.24L795.04 283.18L792.92 284.09L790.81 284.95L788.7 285.75L786.6 286.51L784.5 287.24L782.4 287.95L780.3 288.63L778.2 289.27L776.1 289.89L774 290.48L771.9 291.04L769.8 291.56L767.7 292.05L765.6 292.51L763.5 292.93L761.4 293.33L759.3 293.7L757.2 294.03L755.1 294.33L753 294.59L750.9 294.82L748.8 295L746.7 295.15L744.6 295.25L742.5 295.32L740.4 295.35L738.3 295.33L736.2 295.29L734.1 295.21L732 295.09L729.9 294.94L727.8 294.76L725.7 294.55L723.6 294.3L721.5 294.01L719.4 293.69L717.3 293.32L715.2 292.93L713.1 292.51L711 292.07L708.9 291.61L706.8 291.14L704.7 290.65L702.62 290.15L700.56 289.64L698.51 289.11L696.47 288.56L694.42 287.99L692.36 287.39L690.26 286.77L688.13 286.13L685.95 285.45L683.7 284.75L681.39 284.01L679.01 283.22L676.58 282.39L674.12 281.54L671.63 280.66L669.11 279.77L666.59 278.88L664.08 277.99L661.58 277.11L659.1 276.25L660.1 273.35L648 271.85L655.1 282.35L658 278.65L660.3 279.52L662.61 280.4L664.93 281.29L667.25 282.18L669.57 283.07L671.88 283.95L674.17 284.81L676.44 285.65L678.69 286.47L680.9 287.25L683.08 288.01L685.22 288.75L687.34 289.47L689.44 290.17L691.52 290.86L693.59 291.52L695.66 292.16L697.73 292.78L699.81 293.38L701.9 293.95L704.01 294.5L706.12 295.04L708.24 295.56L710.37 296.06L712.49 296.53L714.6 296.98L716.7 297.4L718.79 297.78L720.86 298.14L722.9 298.45L724.92 298.73L726.93 298.97L728.93 299.19L730.91 299.37L732.88 299.52L734.83 299.64L736.77 299.73L738.69 299.8L740.6 299.84L742.5 299.85L744.36 299.84L746.18 299.81L747.97 299.75L749.75 299.66L751.51 299.54L753.29 299.4L755.08 299.22L756.9 299L758.77 298.74L760.7 298.45L762.69 298.12L764.72 297.75L766.79 297.35L768.9 296.91L771.03 296.44L773.17 295.93L775.31 295.39L777.46 294.81L779.59 294.2L781.7 293.55L783.8 292.85L785.9 292.09L788 291.29L790.1 290.44L792.2 289.57L794.3 288.68L796.4 287.78L798.5 286.89L800.6 286.01L802.7 285.15L804.82 284.29L806.97 283.39L809.13 282.48L811.3 281.55L813.46 280.64L815.6 279.76L817.71 278.91L819.77 278.12L821.77 277.39L823.7 276.75L825.56 276.18L827.37 275.67L829.14 275.21L830.86 274.8L832.54 274.43L834.18 274.11L835.8 273.84L837.39 273.6L838.95 273.41L840.5 273.25L842 273.13L843.43 273.04L844.82 273L846.17 272.99L847.5 273.03L848.83 273.12L850.18 273.25L851.57 273.43L853 273.66L854.5 273.95L856.07 274.28L857.7 274.66L859.38 275.07L861.09 275.53L862.81 276.05L864.55 276.62L866.27 277.25L867.98 277.95L869.66 278.71L871.3 279.55L872.91 280.48L874.53 281.49L876.15 282.59L877.75 283.76L879.33 284.97L880.89 286.24L882.41 287.53L883.89 288.83L885.32 290.15L886.7 291.45L888.01 292.76L889.25 294.12L890.44 295.5L891.58 296.9L892.69 298.32L893.79 299.75L894.87 301.18L895.96 302.62L897.07 304.04L898.2 305.45Z"/>
<path class="ba" d="M108.1 407.85L108.98 406.76L109.85 405.66L110.7 404.55L111.56 403.43L112.42 402.33L113.29 401.23L114.18 400.14L115.09 399.08L116.02 398.05L117 397.05L117.98 396.08L118.95 395.14L119.92 394.22L120.9 393.31L121.92 392.43L122.98 391.57L124.1 390.72L125.31 389.88L126.6 389.06L128 388.25L129.54 387.43L131.22 386.61L133.02 385.78L134.9 384.96L136.83 384.16L138.78 383.4L140.72 382.69L142.62 382.03L144.46 381.45L146.2 380.95L147.85 380.53L149.44 380.16L150.98 379.86L152.49 379.61L153.99 379.42L155.47 379.27L156.97 379.18L158.48 379.13L160.02 379.12L161.6 379.15L163.21 379.22L164.83 379.34L166.45 379.5L168.08 379.7L169.74 379.96L171.41 380.26L173.11 380.6L174.84 381L176.6 381.45L178.4 381.95L180.24 382.52L182.12 383.15L184.03 383.86L185.97 384.61L187.94 385.41L189.92 386.23L191.93 387.08L193.95 387.94L195.97 388.8L198 389.65L200.04 390.52L202.11 391.43L204.2 392.37L206.3 393.32L208.41 394.29L210.53 395.24L212.66 396.18L214.78 397.09L216.89 397.95L219 398.75L221.1 399.51L223.2 400.24L225.3 400.95L227.4 401.63L229.5 402.27L231.6 402.89L233.7 403.48L235.8 404.04L237.9 404.56L240 405.05L242.1 405.51L244.2 405.93L246.3 406.33L248.4 406.7L250.5 407.03L252.6 407.33L254.7 407.59L256.8 407.82L258.9 408L261 408.15L263.1 408.25L265.2 408.32L267.3 408.35L269.4 408.33L271.5 408.29L273.6 408.21L275.7 408.09L277.8 407.94L279.9 407.76L282 407.55L284.1 407.3L286.2 407.01L288.3 406.69L290.4 406.32L292.5 405.93L294.6 405.51L296.7 405.07L298.8 404.61L300.9 404.14L303 403.65L305.08 403.15L307.14 402.64L309.19 402.11L311.23 401.56L313.28 400.99L315.34 400.39L317.44 399.77L319.57 399.13L321.75 398.45L324 397.75L326.31 397.01L328.69 396.22L331.12 395.39L333.58 394.54L336.07 393.66L338.59 392.77L341.11 391.88L343.62 390.99L346.12 390.11L348.6 389.25L347.6 386.35L359.7 384.85L352.6 395.35L349.7 391.65L347.4 392.52L345.09 393.4L342.77 394.29L340.45 395.18L338.13 396.07L335.82 396.95L333.53 397.81L331.26 398.65L329.01 399.47L326.8 400.25L324.62 401.01L322.48 401.75L320.36 402.47L318.26 403.17L316.18 403.86L314.11 404.52L312.04 405.16L309.97 405.78L307.89 406.38L305.8 406.95L303.69 407.5L301.58 408.04L299.46 408.56L297.33 409.06L295.21 409.53L293.1 409.98L291 410.4L288.91 410.78L286.84 411.14L284.8 411.45L282.78 411.73L280.77 411.97L278.77 412.19L276.79 412.37L274.82 412.52L272.87 412.64L270.93 412.73L269.01 412.8L267.1 412.84L265.2 412.85L263.34 412.84L261.52 412.81L259.73 412.75L257.95 412.66L256.19 412.54L254.41 412.4L252.62 412.22L250.8 412L248.93 411.74L247 411.45L245.01 411.12L242.98 410.75L240.91 410.35L238.8 409.91L236.67 409.44L234.53 408.93L232.39 408.39L230.24 407.81L228.11 407.2L226 406.55L223.9 405.85L221.8 405.09L219.7 404.29L217.6 403.44L215.5 402.57L213.4 401.68L211.3 400.78L209.2 399.89L207.1 399.01L205 398.15L202.88 397.29L200.73 396.39L198.57 395.48L196.4 394.55L194.24 393.64L192.1 392.76L189.99 391.91L187.93 391.12L185.93 390.39L184 389.75L182.14 389.18L180.33 388.67L178.56 388.21L176.84 387.8L175.16 387.43L173.52 387.11L171.9 386.84L170.31 386.6L168.75 386.41L167.2 386.25L165.7 386.13L164.27 386.04L162.88 386L161.53 385.99L160.2 386.03L158.87 386.12L157.52 386.25L156.13 386.43L154.7 386.66L153.2 386.95L151.63 387.28L150 387.66L148.32 388.07L146.61 388.53L144.89 389.05L143.15 389.62L141.43 390.25L139.72 390.95L138.04 391.71L136.4 392.55L134.79 393.48L133.17 394.49L131.55 395.59L129.95 396.76L128.37 397.97L126.81 399.24L125.29 400.53L123.81 401.83L122.38 403.15L121 404.45L119.69 405.76L118.45 407.12L117.26 408.5L116.12 409.9L115.01 411.32L113.91 412.75L112.83 414.18L111.74 415.62L110.63 417.04L109.5 418.45Z"/>
<path class="ba" d="M899.6 407.85L898.72 406.76L897.85 405.66L897 404.55L896.14 403.43L895.28 402.33L894.41 401.23L893.52 400.14L892.61 399.08L891.68 398.05L890.7 397.05L889.72 396.08L888.75 395.14L887.78 394.22L886.8 393.31L885.78 392.43L884.72 391.57L883.6 390.72L882.39 389.88L881.1 389.06L879.7 388.25L878.16 387.43L876.48 386.61L874.68 385.78L872.8 384.96L870.88 384.16L868.92 383.4L866.98 382.69L865.08 382.03L863.24 381.45L861.5 380.95L859.85 380.53L858.26 380.16L856.72 379.86L855.21 379.61L853.71 379.42L852.23 379.27L850.73 379.18L849.22 379.13L847.68 379.12L846.1 379.15L844.49 379.22L842.87 379.34L841.25 379.5L839.62 379.7L837.96 379.96L836.29 380.26L834.59 380.6L832.86 381L831.1 381.45L829.3 381.95L827.46 382.52L825.58 383.15L823.67 383.86L821.73 384.61L819.76 385.41L817.78 386.23L815.77 387.08L813.75 387.94L811.73 388.8L809.7 389.65L807.66 390.52L805.59 391.43L803.5 392.37L801.4 393.32L799.29 394.29L797.17 395.24L795.04 396.18L792.92 397.09L790.81 397.95L788.7 398.75L786.6 399.51L784.5 400.24L782.4 400.95L780.3 401.63L778.2 402.27L776.1 402.89L774 403.48L771.9 404.04L769.8 404.56L767.7 405.05L765.6 405.51L763.5 405.93L761.4 406.33L759.3 406.7L757.2 407.03L755.1 407.33L753 407.59L750.9 407.82L748.8 408L746.7 408.15L744.6 408.25L742.5 408.32L740.4 408.35L738.3 408.33L736.2 408.29L734.1 408.21L732 408.09L729.9 407.94L727.8 407.76L725.7 407.55L723.6 407.3L721.5 407.01L719.4 406.69L717.3 406.32L715.2 405.93L713.1 405.51L711 405.07L708.9 404.61L706.8 404.14L704.7 403.65L702.62 403.15L700.56 402.64L698.51 402.11L696.47 401.56L694.42 400.99L692.36 400.39L690.26 399.77L688.13 399.13L685.95 398.45L683.7 397.75L681.39 397.01L679.01 396.22L676.58 395.39L674.12 394.54L671.63 393.66L669.11 392.77L666.59 391.88L664.08 390.99L661.58 390.11L659.1 389.25L660.1 386.35L648 384.85L655.1 395.35L658 391.65L660.3 392.52L662.61 393.4L664.93 394.29L667.25 395.18L669.57 396.07L671.88 396.95L674.17 397.81L676.44 398.65L678.69 399.47L680.9 400.25L683.08 401.01L685.22 401.75L687.34 402.47L689.44 403.17L691.52 403.86L693.59 404.52L695.66 405.16L697.73 405.78L699.81 406.38L701.9 406.95L704.01 407.5L706.12 408.04L708.24 408.56L710.37 409.06L712.49 409.53L714.6 409.98L716.7 410.4L718.79 410.78L720.86 411.14L722.9 411.45L724.92 411.73L726.93 411.97L728.93 412.19L730.91 412.37L732.88 412.52L734.83 412.64L736.77 412.73L738.69 412.8L740.6 412.84L742.5 412.85L744.36 412.84L746.18 412.81L747.97 412.75L749.75 412.66L751.51 412.54L753.29 412.4L755.08 412.22L756.9 412L758.77 411.74L760.7 411.45L762.69 411.12L764.72 410.75L766.79 410.35L768.9 409.91L771.03 409.44L773.17 408.93L775.31 408.39L777.46 407.81L779.59 407.2L781.7 406.55L783.8 405.85L785.9 405.09L788 404.29L790.1 403.44L792.2 402.57L794.3 401.68L796.4 400.78L798.5 399.89L800.6 399.01L802.7 398.15L804.82 397.29L806.97 396.39L809.13 395.48L811.3 394.55L813.46 393.64L815.6 392.76L817.71 391.91L819.77 391.12L821.77 390.39L823.7 389.75L825.56 389.18L827.37 388.67L829.14 388.21L830.86 387.8L832.54 387.43L834.18 387.11L835.8 386.84L837.39 386.6L838.95 386.41L840.5 386.25L842 386.13L843.43 386.04L844.82 386L846.17 385.99L847.5 386.03L848.83 386.12L850.18 386.25L851.57 386.43L853 386.66L854.5 386.95L856.07 387.28L857.7 387.66L859.38 388.07L861.09 388.53L862.81 389.05L864.55 389.62L866.27 390.25L867.98 390.95L869.66 391.71L871.3 392.55L872.91 393.48L874.53 394.49L876.15 395.59L877.75 396.76L879.33 397.97L880.89 399.24L882.41 400.53L883.89 401.83L885.32 403.15L886.7 404.45L888.01 405.76L889.25 407.12L890.44 408.5L891.58 409.9L892.69 411.32L893.79 412.75L894.87 414.18L895.96 415.62L897.07 417.04L898.2 418.45Z"/>
<path class="ba" d="M108.1 518.35L108.98 517.26L109.85 516.16L110.7 515.05L111.56 513.93L112.42 512.83L113.29 511.73L114.18 510.64L115.09 509.58L116.02 508.55L117 507.55L117.98 506.58L118.95 505.64L119.92 504.72L120.9 503.81L121.92 502.93L122.98 502.07L124.1 501.22L125.31 500.38L126.6 499.56L128 498.75L129.54 497.93L131.22 497.11L133.02 496.28L134.9 495.46L136.83 494.66L138.78 493.9L140.72 493.19L142.62 492.53L144.46 491.95L146.2 491.45L147.85 491.03L149.44 490.66L150.98 490.36L152.49 490.11L153.99 489.92L155.47 489.77L156.97 489.68L158.48 489.63L160.02 489.62L161.6 489.65L163.21 489.72L164.83 489.84L166.45 490L168.08 490.2L169.74 490.46L171.41 490.76L173.11 491.1L174.84 491.5L176.6 491.95L178.4 492.45L180.24 493.02L182.12 493.65L184.03 494.36L185.97 495.11L187.94 495.91L189.92 496.73L191.93 497.58L193.95 498.44L195.97 499.3L198 500.15L200.04 501.02L202.11 501.93L204.2 502.87L206.3 503.82L208.41 504.79L210.53 505.74L212.66 506.68L214.78 507.59L216.89 508.45L219 509.25L221.1 510.01L223.2 510.74L225.3 511.45L227.4 512.13L229.5 512.77L231.6 513.39L233.7 513.98L235.8 514.54L237.9 515.06L240 515.55L242.1 516.01L244.2 516.43L246.3 516.83L248.4 517.2L250.5 517.53L252.6 517.83L254.7 518.09L256.8 518.32L258.9 518.5L261 518.65L263.1 518.75L265.2 518.82L267.3 518.85L269.4 518.83L271.5 518.79L273.6 518.71L275.7 518.59L277.8 518.44L279.9 518.26L282 518.05L284.1 517.8L286.2 517.51L288.3 517.19L290.4 516.82L292.5 516.43L294.6 516.01L296.7 515.57L298.8 515.11L300.9 514.64L303 514.15L305.08 513.65L307.14 513.14L309.19 512.61L311.23 512.06L313.28 511.49L315.34 510.89L317.44 510.27L319.57 509.63L321.75 508.95L324 508.25L326.31 507.51L328.69 506.72L331.12 505.89L333.58 505.04L336.07 504.16L338.59 503.27L341.11 502.38L343.62 501.49L346.12 500.61L348.6 499.75L347.6 496.85L359.7 495.35L352.6 505.85L349.7 502.15L347.4 503.02L345.09 503.9L342.77 504.79L340.45 505.68L338.13 506.57L335.82 507.45L333.53 508.31L331.26 509.15L329.01 509.97L326.8 510.75L324.62 511.51L322.48 512.25L320.36 512.97L318.26 513.67L316.18 514.36L314.11 515.02L312.04 515.66L309.97 516.28L307.89 516.88L305.8 517.45L303.69 518L301.58 518.54L299.46 519.06L297.33 519.56L295.21 520.03L293.1 520.48L291 520.9L288.91 521.28L286.84 521.64L284.8 521.95L282.78 522.23L280.77 522.47L278.77 522.69L276.79 522.87L274.82 523.02L272.87 523.14L270.93 523.23L269.01 523.3L267.1 523.34L265.2 523.35L263.34 523.34L261.52 523.31L259.73 523.25L257.95 523.16L256.19 523.04L254.41 522.9L252.62 522.72L250.8 522.5L248.93 522.24L247 521.95L245.01 521.62L242.98 521.25L240.91 520.85L238.8 520.41L236.67 519.94L234.53 519.43L232.39 518.89L230.24 518.31L228.11 517.7L226 517.05L223.9 516.35L221.8 515.59L219.7 514.79L217.6 513.94L215.5 513.07L213.4 512.18L211.3 511.28L209.2 510.39L207.1 509.51L205 508.65L202.88 507.79L200.73 506.89L198.57 505.98L196.4 505.05L194.24 504.14L192.1 503.26L189.99 502.41L187.93 501.62L185.93 500.89L184 500.25L182.14 499.68L180.33 499.17L178.56 498.71L176.84 498.3L175.16 497.93L173.52 497.61L171.9 497.34L170.31 497.1L168.75 496.91L167.2 496.75L165.7 496.63L164.27 496.54L162.88 496.5L161.53 496.49L160.2 496.53L158.87 496.62L157.52 496.75L156.13 496.93L154.7 497.16L153.2 497.45L151.63 497.78L150 498.16L148.32 498.57L146.61 499.03L144.89 499.55L143.15 500.12L141.43 500.75L139.72 501.45L138.04 502.21L136.4 503.05L134.79 503.98L133.17 504.99L131.55 506.09L129.95 507.26L128.37 508.47L126.81 509.74L125.29 511.03L123.81 512.33L122.38 513.65L121 514.95L119.69 516.26L118.45 517.62L117.26 519L116.12 520.4L115.01 521.82L113.91 523.25L112.83 524.68L111.74 526.12L110.63 527.54L109.5 528.95Z"/>
<path class="ba" d="M899.6 518.35L898.72 517.26L897.85 516.16L897 515.05L896.14 513.93L895.28 512.83L894.41 511.73L893.52 510.64L892.61 509.58L891.68 508.55L890.7 507.55L889.72 506.58L888.75 505.64L887.78 504.72L886.8 503.81L885.78 502.93L884.72 502.07L883.6 501.22L882.39 500.38L881.1 499.56L879.7 498.75L878.16 497.93L876.48 497.11L874.68 496.28L872.8 495.46L870.88 494.66L868.92 493.9L866.98 493.19L865.08 492.53L863.24 491.95L861.5 491.45L859.85 491.03L858.26 490.66L856.72 490.36L855.21 490.11L853.71 489.92L852.23 489.77L850.73 489.68L849.22 489.63L847.68 489.62L846.1 489.65L844.49 489.72L842.87 489.84L841.25 490L839.62 490.2L837.96 490.46L836.29 490.76L834.59 491.1L832.86 491.5L831.1 491.95L829.3 492.45L827.46 493.02L825.58 493.65L823.67 494.36L821.73 495.11L819.76 495.91L817.78 496.73L815.77 497.58L813.75 498.44L811.73 499.3L809.7 500.15L807.66 501.02L805.59 501.93L803.5 502.87L801.4 503.82L799.29 504.79L797.17 505.74L795.04 506.68L792.92 507.59L790.81 508.45L788.7 509.25L786.6 510.01L784.5 510.74L782.4 511.45L780.3 512.13L778.2 512.77L776.1 513.39L774 513.98L771.9 514.54L769.8 515.06L767.7 515.55L765.6 516.01L763.5 516.43L761.4 516.83L759.3 517.2L757.2 517.53L755.1 517.83L753 518.09L750.9 518.32L748.8 518.5L746.7 518.65L744.6 518.75L742.5 518.82L740.4 518.85L738.3 518.83L736.2 518.79L734.1 518.71L732 518.59L729.9 518.44L727.8 518.26L725.7 518.05L723.6 517.8L721.5 517.51L719.4 517.19L717.3 516.82L715.2 516.43L713.1 516.01L711 515.57L708.9 515.11L706.8 514.64L704.7 514.15L702.62 513.65L700.56 513.14L698.51 512.61L696.47 512.06L694.42 511.49L692.36 510.89L690.26 510.27L688.13 509.63L685.95 508.95L683.7 508.25L681.39 507.51L679.01 506.72L676.58 505.89L674.12 505.04L671.63 504.16L669.11 503.27L666.59 502.38L664.08 501.49L661.58 500.61L659.1 499.75L660.1 496.85L648 495.35L655.1 505.85L658 502.15L660.3 503.02L662.61 503.9L664.93 504.79L667.25 505.68L669.57 506.57L671.88 507.45L674.17 508.31L676.44 509.15L678.69 509.97L680.9 510.75L683.08 511.51L685.22 512.25L687.34 512.97L689.44 513.67L691.52 514.36L693.59 515.02L695.66 515.66L697.73 516.28L699.81 516.88L701.9 517.45L704.01 518L706.12 518.54L708.24 519.06L710.37 519.56L712.49 520.03L714.6 520.48L716.7 520.9L718.79 521.28L720.86 521.64L722.9 521.95L724.92 522.23L726.93 522.47L728.93 522.69L730.91 522.87L732.88 523.02L734.83 523.14L736.77 523.23L738.69 523.3L740.6 523.34L742.5 523.35L744.36 523.34L746.18 523.31L747.97 523.25L749.75 523.16L751.51 523.04L753.29 522.9L755.08 522.72L756.9 522.5L758.77 522.24L760.7 521.95L762.69 521.62L764.72 521.25L766.79 520.85L768.9 520.41L771.03 519.94L773.17 519.43L775.31 518.89L777.46 518.31L779.59 517.7L781.7 517.05L783.8 516.35L785.9 515.59L788 514.79L790.1 513.94L792.2 513.07L794.3 512.18L796.4 511.28L798.5 510.39L800.6 509.51L802.7 508.65L804.82 507.79L806.97 506.89L809.13 505.98L811.3 505.05L813.46 504.14L815.6 503.26L817.71 502.41L819.77 501.62L821.77 500.89L823.7 500.25L825.56 499.68L827.37 499.17L829.14 498.71L830.86 498.3L832.54 497.93L834.18 497.61L835.8 497.34L837.39 497.1L838.95 496.91L840.5 496.75L842 496.63L843.43 496.54L844.82 496.5L846.17 496.49L847.5 496.53L848.83 496.62L850.18 496.75L851.57 496.93L853 497.16L854.5 497.45L856.07 497.78L857.7 498.16L859.38 498.57L861.09 499.03L862.81 499.55L864.55 500.12L866.27 500.75L867.98 501.45L869.66 502.21L871.3 503.05L872.91 503.98L874.53 504.99L876.15 506.09L877.75 507.26L879.33 508.47L880.89 509.74L882.41 511.03L883.89 512.33L885.32 513.65L886.7 514.95L888.01 516.26L889.25 517.62L890.44 519L891.58 520.4L892.69 521.82L893.79 523.25L894.87 524.68L895.96 526.12L897.07 527.54L898.2 528.95Z"/>
<path class="ba" d="M899.6 632.3L898.72 631.21L897.85 630.11L897 629L896.14 627.88L895.28 626.77L894.41 625.68L893.52 624.59L892.61 623.53L891.68 622.5L890.7 621.5L889.72 620.53L888.75 619.59L887.78 618.67L886.8 617.76L885.78 616.88L884.72 616.02L883.6 615.17L882.39 614.33L881.1 613.51L879.7 612.7L878.16 611.88L876.48 611.06L874.68 610.23L872.8 609.41L870.88 608.61L868.92 607.85L866.98 607.14L865.08 606.48L863.24 605.9L861.5 605.4L859.85 604.98L858.26 604.61L856.72 604.31L855.21 604.06L853.71 603.87L852.23 603.72L850.73 603.63L849.22 603.58L847.68 603.57L846.1 603.6L844.49 603.67L842.87 603.79L841.25 603.95L839.62 604.15L837.96 604.41L836.29 604.71L834.59 605.05L832.86 605.45L831.1 605.9L829.3 606.4L827.46 606.97L825.58 607.6L823.67 608.31L821.73 609.06L819.76 609.86L817.78 610.68L815.77 611.53L813.75 612.39L811.73 613.25L809.7 614.1L807.66 614.97L805.59 615.88L803.5 616.82L801.4 617.77L799.29 618.74L797.17 619.69L795.04 620.63L792.92 621.54L790.81 622.4L788.7 623.2L786.6 623.96L784.5 624.69L782.4 625.4L780.3 626.08L778.2 626.73L776.1 627.34L774 627.93L771.9 628.49L769.8 629.01L767.7 629.5L765.6 629.96L763.5 630.38L761.4 630.78L759.3 631.15L757.2 631.48L755.1 631.78L753 632.04L750.9 632.27L748.8 632.45L746.7 632.6L744.6 632.7L742.5 632.77L740.4 632.8L738.3 632.78L736.2 632.74L734.1 632.66L732 632.54L729.9 632.39L727.8 632.21L725.7 632L723.6 631.75L721.5 631.46L719.4 631.14L717.3 630.77L715.2 630.38L713.1 629.96L711 629.52L708.9 629.06L706.8 628.59L704.7 628.1L702.62 627.6L700.56 627.09L698.51 626.56L696.47 626.01L694.42 625.44L692.36 624.84L690.26 624.22L688.13 623.58L685.95 622.9L683.7 622.2L681.39 621.46L679.01 620.67L676.58 619.84L674.12 618.99L671.63 618.11L669.11 617.22L666.59 616.33L664.08 615.44L661.58 614.56L659.1 613.7L660.1 610.8L648 609.3L655.1 619.8L658 616.1L660.3 616.97L662.61 617.85L664.93 618.74L667.25 619.63L669.57 620.52L671.88 621.4L674.17 622.26L676.44 623.1L678.69 623.92L680.9 624.7L683.08 625.46L685.22 626.2L687.34 626.92L689.44 627.62L691.52 628.31L693.59 628.97L695.66 629.61L697.73 630.23L699.81 630.83L701.9 631.4L704.01 631.95L706.12 632.49L708.24 633.01L710.37 633.51L712.49 633.98L714.6 634.43L716.7 634.85L718.79 635.23L720.86 635.59L722.9 635.9L724.92 636.18L726.93 636.42L728.93 636.64L730.91 636.82L732.88 636.97L734.83 637.09L736.77 637.18L738.69 637.25L740.6 637.29L742.5 637.3L744.36 637.29L746.18 637.26L747.97 637.2L749.75 637.11L751.51 636.99L753.29 636.85L755.08 636.67L756.9 636.45L758.77 636.19L760.7 635.9L762.69 635.57L764.72 635.2L766.79 634.8L768.9 634.36L771.03 633.89L773.17 633.38L775.31 632.84L777.46 632.26L779.59 631.65L781.7 631L783.8 630.3L785.9 629.54L788 628.74L790.1 627.89L792.2 627.02L794.3 626.13L796.4 625.23L798.5 624.34L800.6 623.46L802.7 622.6L804.82 621.74L806.97 620.84L809.13 619.93L811.3 619L813.46 618.09L815.6 617.21L817.71 616.36L819.77 615.57L821.77 614.84L823.7 614.2L825.56 613.63L827.37 613.12L829.14 612.66L830.86 612.25L832.54 611.88L834.18 611.56L835.8 611.29L837.39 611.05L838.95 610.86L840.5 610.7L842 610.58L843.43 610.49L844.82 610.45L846.17 610.44L847.5 610.48L848.83 610.57L850.18 610.7L851.57 610.88L853 611.11L854.5 611.4L856.07 611.73L857.7 612.11L859.38 612.52L861.09 612.98L862.81 613.5L864.55 614.07L866.27 614.7L867.98 615.4L869.66 616.16L871.3 617L872.91 617.93L874.53 618.94L876.15 620.04L877.75 621.21L879.33 622.42L880.89 623.69L882.41 624.98L883.89 626.28L885.32 627.6L886.7 628.9L888.01 630.21L889.25 631.57L890.44 632.95L891.58 634.35L892.69 635.77L893.79 637.2L894.87 638.63L895.96 640.07L897.07 641.49L898.2 642.9Z" clip-path="url(#gclip)"/>
<path class="bs" d="M771.3 627.9V633.2M810.7 610.4V618"/>
<path class="lb" d="M951.3 86.9L1146.2 177.1L1204 146.7L1274.4 185.4L1275.4 184L1278.9 190.7L1270.6 190.8L1272 187.1L1204 152.2L1146.2 185.8L946.4 107.8Z"/>
<path class="lb" d="M1953.1 86.9L1757.5 177.1L1700.4 146.7L1630 185.4L1629 184L1625.5 190.7L1633.8 190.8L1632.4 187.1L1700.4 152.2L1757.5 185.8L1958 107.8Z"/>
<path class="lb" d="M951.3 198.65L1146.2 288.85L1204 258.45L1274.4 297.15L1275.4 295.75L1278.9 302.45L1270.6 302.55L1272 298.85L1204 263.95L1146.2 297.55L946.4 219.55Z"/>
<path class="lb" d="M1953.1 198.65L1757.5 288.85L1700.4 258.45L1630 297.15L1629 295.75L1625.5 302.45L1633.8 302.55L1632.4 298.85L1700.4 263.95L1757.5 297.55L1958 219.55Z"/>
<path class="lb" d="M951.3 310.4L1146.2 400.6L1204 370.2L1274.4 408.9L1275.4 407.5L1278.9 414.2L1270.6 414.3L1272 410.6L1204 375.7L1146.2 409.3L946.4 331.3Z"/>
<path class="lb" d="M1953.1 310.4L1757.5 400.6L1700.4 370.2L1630 408.9L1629 407.5L1625.5 414.2L1633.8 414.3L1632.4 410.6L1700.4 375.7L1757.5 409.3L1958 331.3Z"/>
<path class="lb" d="M951.3 422.15L1146.2 512.35L1204 481.95L1274.4 520.65L1275.4 519.25L1278.9 525.95L1270.6 526.05L1272 522.35L1204 487.45L1146.2 521.05L946.4 443.05Z"/>
<path class="lb" d="M1953.1 422.15L1757.5 512.35L1700.4 481.95L1630 520.65L1629 519.25L1625.5 525.95L1633.8 526.05L1632.4 522.35L1700.4 487.45L1757.5 521.05L1958 443.05Z"/>
</g>
<text x="6" y="954.4" font-size="16" textLength="168" lengthAdjust="spacingAndGlyphs">Effiziente Nachtauskühlung</text>
<text x="1119" y="954.4" font-size="16" textLength="176.4" lengthAdjust="spacingAndGlyphs">Optimierte Tageslichnutzung</text>
<text x="1666.7" y="994" font-size="15.6" textLength="320.1" lengthAdjust="spacingAndGlyphs">Bob Gysin + Partner BGP Architekten ETH SIA BSA</text>
<text x="1575" y="1013.8" font-size="15.6" textLength="411.8" lengthAdjust="spacingAndGlyphs">402 Büro- und Produktionsgebäude Fauenfelderstrasse, Winterthur</text>
</svg>
</body>
</html>
